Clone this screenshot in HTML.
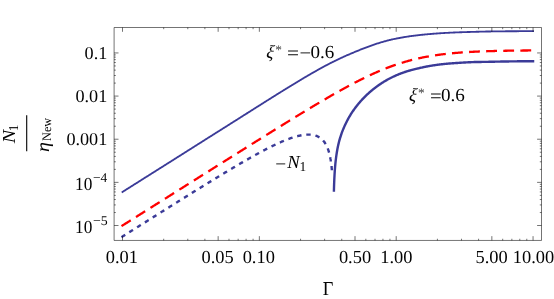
<!DOCTYPE html>
<html><head><meta charset="utf-8"><title>plot</title><style>html,body{margin:0;padding:0;background:#fff;overflow:hidden}body{width:554px;height:299px;position:relative}</style></head><body>
<svg width="554" height="299" viewBox="0 0 554 299" style="position:absolute;left:0;top:0;font-family:'Liberation Serif',serif;text-rendering:geometricPrecision">
<rect width="554" height="299" fill="#fff"/>
<g fill="none" stroke-linejoin="round">
<path d="M122.50,191.93 L123.19,191.49 L123.87,191.06 L124.56,190.63 L125.24,190.20 L125.93,189.76 L126.61,189.33 L127.30,188.90 L127.98,188.47 L128.67,188.03 L129.35,187.60 L130.04,187.17 L130.72,186.74 L131.41,186.31 L132.10,185.87 L132.78,185.44 L133.47,185.01 L134.15,184.58 L134.84,184.14 L135.52,183.71 L136.21,183.28 L136.89,182.85 L137.58,182.41 L138.26,181.98 L138.95,181.55 L139.63,181.12 L140.32,180.69 L141.01,180.25 L141.69,179.82 L142.38,179.39 L143.06,178.96 L143.75,178.52 L144.43,178.09 L145.12,177.66 L145.80,177.23 L146.49,176.80 L147.17,176.36 L147.86,175.93 L148.54,175.50 L149.23,175.07 L149.92,174.63 L150.60,174.20 L151.29,173.77 L151.97,173.34 L152.66,172.91 L153.34,172.47 L154.03,172.04 L154.71,171.61 L155.40,171.18 L156.08,170.74 L156.77,170.31 L157.46,169.88 L158.14,169.45 L158.83,169.01 L159.51,168.58 L160.20,168.15 L160.88,167.72 L161.57,167.29 L162.25,166.85 L162.94,166.42 L163.62,165.99 L164.31,165.56 L164.99,165.12 L165.68,164.69 L166.37,164.26 L167.05,163.83 L167.74,163.39 L168.42,162.96 L169.11,162.53 L169.79,162.10 L170.48,161.66 L171.16,161.23 L171.85,160.80 L172.53,160.37 L173.22,159.93 L173.90,159.50 L174.59,159.07 L175.28,158.63 L175.96,158.20 L176.65,157.77 L177.33,157.34 L178.02,156.90 L178.70,156.47 L179.39,156.04 L180.07,155.61 L180.76,155.17 L181.44,154.74 L182.13,154.31 L182.81,153.87 L183.50,153.44 L184.19,153.01 L184.87,152.57 L185.56,152.14 L186.24,151.71 L186.93,151.27 L187.61,150.84 L188.30,150.41 L188.98,149.97 L189.67,149.54 L190.35,149.11 L191.04,148.67 L191.72,148.24 L192.41,147.81 L193.10,147.37 L193.78,146.94 L194.47,146.51 L195.15,146.07 L195.84,145.64 L196.52,145.21 L197.21,144.77 L197.89,144.34 L198.58,143.90 L199.26,143.47 L199.95,143.04 L200.63,142.60 L201.32,142.17 L202.01,141.73 L202.69,141.30 L203.38,140.87 L204.06,140.43 L204.75,140.00 L205.43,139.57 L206.12,139.13 L206.80,138.70 L207.49,138.27 L208.17,137.84 L208.86,137.40 L209.54,136.97 L210.23,136.54 L210.92,136.11 L211.60,135.68 L212.29,135.24 L212.97,134.81 L213.66,134.38 L214.34,133.95 L215.03,133.51 L215.71,133.08 L216.40,132.65 L217.08,132.22 L217.77,131.79 L218.45,131.36 L219.14,130.92 L219.83,130.49 L220.51,130.06 L221.20,129.63 L221.88,129.20 L222.57,128.76 L223.25,128.33 L223.94,127.90 L224.62,127.47 L225.31,127.04 L225.99,126.60 L226.68,126.17 L227.37,125.74 L228.05,125.31 L228.74,124.87 L229.42,124.44 L230.11,124.01 L230.79,123.57 L231.48,123.14 L232.16,122.71 L232.85,122.28 L233.53,121.84 L234.22,121.41 L234.90,120.97 L235.59,120.54 L236.28,120.11 L236.96,119.67 L237.65,119.24 L238.33,118.80 L239.02,118.37 L239.70,117.94 L240.39,117.50 L241.07,117.07 L241.76,116.63 L242.44,116.20 L243.13,115.76 L243.81,115.33 L244.50,114.89 L245.19,114.46 L245.87,114.02 L246.56,113.59 L247.24,113.15 L247.93,112.72 L248.61,112.29 L249.30,111.85 L249.98,111.42 L250.67,110.98 L251.35,110.55 L252.04,110.12 L252.72,109.68 L253.41,109.25 L254.10,108.81 L254.78,108.38 L255.47,107.95 L256.15,107.51 L256.84,107.08 L257.52,106.65 L258.21,106.21 L258.89,105.78 L259.58,105.35 L260.26,104.92 L260.95,104.48 L261.63,104.05 L262.32,103.62 L263.01,103.19 L263.69,102.75 L264.38,102.32 L265.06,101.89 L265.75,101.46 L266.43,101.03 L267.12,100.59 L267.80,100.16 L268.49,99.73 L269.17,99.30 L269.86,98.87 L270.54,98.44 L271.23,98.01 L271.92,97.58 L272.60,97.15 L273.29,96.72 L273.97,96.29 L274.66,95.86 L275.34,95.44 L276.03,95.01 L276.71,94.58 L277.40,94.15 L278.08,93.72 L278.77,93.30 L279.45,92.87 L280.14,92.44 L280.83,92.02 L281.51,91.59 L282.20,91.17 L282.88,90.74 L283.57,90.32 L284.25,89.89 L284.94,89.47 L285.62,89.05 L286.31,88.62 L286.99,88.20 L287.68,87.78 L288.36,87.36 L289.05,86.94 L289.74,86.52 L290.42,86.10 L291.11,85.68 L291.79,85.26 L292.48,84.84 L293.16,84.42 L293.85,84.00 L294.53,83.59 L295.22,83.17 L295.90,82.75 L296.59,82.34 L297.28,81.92 L297.96,81.51 L298.65,81.10 L299.33,80.69 L300.02,80.28 L300.70,79.86 L301.39,79.45 L302.07,79.05 L302.76,78.64 L303.44,78.23 L304.13,77.82 L304.81,77.42 L305.50,77.01 L306.19,76.61 L306.87,76.21 L307.56,75.81 L308.24,75.41 L308.93,75.01 L309.61,74.61 L310.30,74.21 L310.98,73.82 L311.67,73.42 L312.35,73.03 L313.04,72.63 L313.72,72.24 L314.41,71.85 L315.10,71.46 L315.78,71.08 L316.47,70.69 L317.15,70.31 L317.84,69.92 L318.52,69.54 L319.21,69.16 L319.89,68.78 L320.58,68.40 L321.26,68.02 L321.95,67.65 L322.63,67.28 L323.32,66.90 L324.01,66.53 L324.69,66.16 L325.38,65.80 L326.06,65.43 L326.75,65.07 L327.43,64.71 L328.12,64.35 L328.80,64.00 L329.49,63.64 L330.17,63.29 L330.86,62.94 L331.54,62.59 L332.23,62.25 L332.92,61.90 L333.60,61.56 L334.29,61.22 L334.97,60.88 L335.66,60.55 L336.34,60.21 L337.03,59.88 L337.71,59.55 L338.40,59.22 L339.08,58.90 L339.77,58.57 L340.45,58.25 L341.14,57.93 L341.83,57.61 L342.51,57.30 L343.20,56.98 L343.88,56.67 L344.57,56.37 L345.25,56.06 L345.94,55.76 L346.62,55.46 L347.31,55.16 L347.99,54.86 L348.68,54.57 L349.36,54.28 L350.05,53.98 L350.74,53.69 L351.42,53.41 L352.11,53.12 L352.79,52.83 L353.48,52.54 L354.16,52.26 L354.85,51.98 L355.53,51.69 L356.22,51.41 L356.90,51.12 L357.59,50.84 L358.27,50.56 L358.96,50.28 L359.65,50.00 L360.33,49.72 L361.02,49.44 L361.70,49.16 L362.39,48.89 L363.07,48.62 L363.76,48.35 L364.44,48.08 L365.13,47.82 L365.81,47.56 L366.50,47.30 L367.19,47.04 L367.87,46.79 L368.56,46.54 L369.24,46.29 L369.93,46.04 L370.61,45.80 L371.30,45.55 L371.98,45.31 L372.67,45.07 L373.35,44.84 L374.04,44.60 L374.72,44.37 L375.41,44.14 L376.10,43.92 L376.78,43.70 L377.47,43.48 L378.15,43.26 L378.84,43.05 L379.52,42.84 L380.21,42.63 L380.89,42.43 L381.58,42.22 L382.26,42.02 L382.95,41.83 L383.63,41.63 L384.32,41.44 L385.01,41.25 L385.69,41.06 L386.38,40.87 L387.06,40.69 L387.75,40.51 L388.43,40.34 L389.12,40.17 L389.80,40.00 L390.49,39.84 L391.17,39.67 L391.86,39.52 L392.54,39.37 L393.23,39.22 L393.92,39.07 L394.60,38.93 L395.29,38.79 L395.97,38.65 L396.66,38.51 L397.34,38.37 L398.03,38.24 L398.71,38.11 L399.40,37.98 L400.08,37.86 L400.77,37.73 L401.45,37.61 L402.14,37.49 L402.83,37.37 L403.51,37.26 L404.20,37.14 L404.88,37.03 L405.57,36.92 L406.25,36.81 L406.94,36.70 L407.62,36.60 L408.31,36.49 L408.99,36.39 L409.68,36.29 L410.36,36.20 L411.05,36.10 L411.74,36.01 L412.42,35.91 L413.11,35.82 L413.79,35.73 L414.48,35.65 L415.16,35.56 L415.85,35.48 L416.53,35.39 L417.22,35.31 L417.90,35.23 L418.59,35.15 L419.27,35.08 L419.96,35.00 L420.65,34.93 L421.33,34.85 L422.02,34.78 L422.70,34.71 L423.39,34.65 L424.07,34.58 L424.76,34.51 L425.44,34.45 L426.13,34.38 L426.81,34.32 L427.50,34.26 L428.18,34.20 L428.87,34.14 L429.56,34.08 L430.24,34.02 L430.93,33.96 L431.61,33.90 L432.30,33.85 L432.98,33.79 L433.67,33.73 L434.35,33.68 L435.04,33.63 L435.72,33.58 L436.41,33.52 L437.10,33.47 L437.78,33.42 L438.47,33.38 L439.15,33.33 L439.84,33.28 L440.52,33.24 L441.21,33.19 L441.89,33.15 L442.58,33.10 L443.26,33.06 L443.95,33.02 L444.63,32.98 L445.32,32.94 L446.01,32.91 L446.69,32.87 L447.38,32.83 L448.06,32.80 L448.75,32.76 L449.43,32.73 L450.12,32.70 L450.80,32.66 L451.49,32.63 L452.17,32.60 L452.86,32.57 L453.54,32.54 L454.23,32.51 L454.92,32.48 L455.60,32.45 L456.29,32.42 L456.97,32.40 L457.66,32.37 L458.34,32.34 L459.03,32.32 L459.71,32.29 L460.40,32.27 L461.08,32.24 L461.77,32.22 L462.45,32.20 L463.14,32.17 L463.83,32.15 L464.51,32.13 L465.20,32.11 L465.88,32.09 L466.57,32.06 L467.25,32.04 L467.94,32.02 L468.62,32.00 L469.31,31.98 L469.99,31.96 L470.68,31.94 L471.36,31.92 L472.05,31.90 L472.74,31.88 L473.42,31.86 L474.11,31.84 L474.79,31.82 L475.48,31.80 L476.16,31.78 L476.85,31.77 L477.53,31.75 L478.22,31.73 L478.90,31.71 L479.59,31.69 L480.27,31.67 L480.96,31.65 L481.65,31.64 L482.33,31.62 L483.02,31.60 L483.70,31.59 L484.39,31.57 L485.07,31.56 L485.76,31.54 L486.44,31.53 L487.13,31.52 L487.81,31.50 L488.50,31.49 L489.18,31.48 L489.87,31.47 L490.56,31.46 L491.24,31.45 L491.93,31.44 L492.61,31.43 L493.30,31.42 L493.98,31.41 L494.67,31.41 L495.35,31.40 L496.04,31.39 L496.72,31.38 L497.41,31.37 L498.09,31.36 L498.78,31.36 L499.47,31.35 L500.15,31.34 L500.84,31.34 L501.52,31.33 L502.21,31.32 L502.89,31.31 L503.58,31.31 L504.26,31.30 L504.95,31.30 L505.63,31.29 L506.32,31.28 L507.01,31.28 L507.69,31.27 L508.38,31.27 L509.06,31.26 L509.75,31.26 L510.43,31.25 L511.12,31.25 L511.80,31.24 L512.49,31.24 L513.17,31.23 L513.86,31.23 L514.54,31.22 L515.23,31.22 L515.92,31.21 L516.60,31.21 L517.29,31.21 L517.97,31.20 L518.66,31.20 L519.34,31.19 L520.03,31.19 L520.71,31.19 L521.40,31.18 L522.08,31.18 L522.77,31.18 L523.45,31.17 L524.14,31.17 L524.83,31.17 L525.51,31.16 L526.20,31.16 L526.88,31.16 L527.57,31.16 L528.25,31.15 L528.94,31.15 L529.62,31.15 L530.31,31.15 L530.99,31.14 L531.68,31.14 L532.36,31.14 L533.05,31.14" stroke="#3b3b98" stroke-width="1.85" stroke-linecap="square"/>
<path d="M122.50,225.51 L123.19,225.08 L123.87,224.65 L124.56,224.22 L125.24,223.78 L125.93,223.35 L126.61,222.92 L127.30,222.49 L127.98,222.05 L128.67,221.62 L129.35,221.19 L130.04,220.76 L130.72,220.33 L131.41,219.89 L132.10,219.46 L132.78,219.03 L133.47,218.60 L134.15,218.17 L134.84,217.73 L135.52,217.30 L136.21,216.87 L136.89,216.44 L137.58,216.01 L138.26,215.57 L138.95,215.14 L139.63,214.71 L140.32,214.28 L141.01,213.85 L141.69,213.41 L142.38,212.98 L143.06,212.55 L143.75,212.12 L144.43,211.69 L145.12,211.25 L145.80,210.82 L146.49,210.39 L147.17,209.96 L147.86,209.53 L148.54,209.09 L149.23,208.66 L149.92,208.23 L150.60,207.80 L151.29,207.37 L151.97,206.93 L152.66,206.50 L153.34,206.07 L154.03,205.64 L154.71,205.21 L155.40,204.77 L156.08,204.34 L156.77,203.91 L157.46,203.48 L158.14,203.05 L158.83,202.61 L159.51,202.18 L160.20,201.75 L160.88,201.32 L161.57,200.89 L162.25,200.45 L162.94,200.02 L163.62,199.59 L164.31,199.16 L164.99,198.73 L165.68,198.29 L166.37,197.86 L167.05,197.43 L167.74,197.00 L168.42,196.57 L169.11,196.13 L169.79,195.70 L170.48,195.27 L171.16,194.84 L171.85,194.41 L172.53,193.97 L173.22,193.54 L173.90,193.11 L174.59,192.68 L175.28,192.25 L175.96,191.81 L176.65,191.38 L177.33,190.95 L178.02,190.52 L178.70,190.09 L179.39,189.66 L180.07,189.22 L180.76,188.79 L181.44,188.36 L182.13,187.93 L182.81,187.50 L183.50,187.06 L184.19,186.63 L184.87,186.20 L185.56,185.77 L186.24,185.34 L186.93,184.90 L187.61,184.47 L188.30,184.04 L188.98,183.61 L189.67,183.18 L190.35,182.75 L191.04,182.31 L191.72,181.88 L192.41,181.45 L193.10,181.02 L193.78,180.59 L194.47,180.16 L195.15,179.72 L195.84,179.29 L196.52,178.86 L197.21,178.43 L197.89,178.00 L198.58,177.57 L199.26,177.13 L199.95,176.70 L200.63,176.27 L201.32,175.84 L202.01,175.41 L202.69,174.98 L203.38,174.54 L204.06,174.11 L204.75,173.68 L205.43,173.25 L206.12,172.82 L206.80,172.39 L207.49,171.96 L208.17,171.52 L208.86,171.09 L209.54,170.66 L210.23,170.23 L210.92,169.80 L211.60,169.37 L212.29,168.94 L212.97,168.50 L213.66,168.07 L214.34,167.64 L215.03,167.21 L215.71,166.78 L216.40,166.35 L217.08,165.92 L217.77,165.49 L218.45,165.05 L219.14,164.62 L219.83,164.19 L220.51,163.76 L221.20,163.33 L221.88,162.90 L222.57,162.47 L223.25,162.04 L223.94,161.61 L224.62,161.17 L225.31,160.74 L225.99,160.31 L226.68,159.88 L227.37,159.45 L228.05,159.02 L228.74,158.59 L229.42,158.16 L230.11,157.73 L230.79,157.30 L231.48,156.87 L232.16,156.44 L232.85,156.00 L233.53,155.57 L234.22,155.14 L234.90,154.71 L235.59,154.28 L236.28,153.85 L236.96,153.42 L237.65,152.99 L238.33,152.56 L239.02,152.13 L239.70,151.70 L240.39,151.27 L241.07,150.84 L241.76,150.41 L242.44,149.98 L243.13,149.55 L243.81,149.12 L244.50,148.69 L245.19,148.26 L245.87,147.83 L246.56,147.40 L247.24,146.97 L247.93,146.54 L248.61,146.11 L249.30,145.68 L249.98,145.25 L250.67,144.82 L251.35,144.39 L252.04,143.97 L252.72,143.54 L253.41,143.11 L254.10,142.68 L254.78,142.25 L255.47,141.82 L256.15,141.39 L256.84,140.96 L257.52,140.53 L258.21,140.11 L258.89,139.68 L259.58,139.25 L260.26,138.82 L260.95,138.39 L261.63,137.96 L262.32,137.54 L263.01,137.11 L263.69,136.68 L264.38,136.25 L265.06,135.82 L265.75,135.40 L266.43,134.97 L267.12,134.54 L267.80,134.11 L268.49,133.69 L269.17,133.26 L269.86,132.83 L270.54,132.41 L271.23,131.98 L271.92,131.55 L272.60,131.13 L273.29,130.70 L273.97,130.27 L274.66,129.85 L275.34,129.42 L276.03,129.00 L276.71,128.57 L277.40,128.15 L278.08,127.72 L278.77,127.30 L279.45,126.87 L280.14,126.45 L280.83,126.02 L281.51,125.60 L282.20,125.17 L282.88,124.75 L283.57,124.32 L284.25,123.90 L284.94,123.48 L285.62,123.05 L286.31,122.63 L286.99,122.21 L287.68,121.78 L288.36,121.36 L289.05,120.94 L289.74,120.52 L290.42,120.10 L291.11,119.67 L291.79,119.25 L292.48,118.83 L293.16,118.41 L293.85,117.99 L294.53,117.57 L295.22,117.15 L295.90,116.73 L296.59,116.31 L297.28,115.89 L297.96,115.47 L298.65,115.05 L299.33,114.63 L300.02,114.22 L300.70,113.80 L301.39,113.38 L302.07,112.96 L302.76,112.55 L303.44,112.13 L304.13,111.72 L304.81,111.30 L305.50,110.88 L306.19,110.47 L306.87,110.05 L307.56,109.64 L308.24,109.23 L308.93,108.81 L309.61,108.40 L310.30,107.99 L310.98,107.58 L311.67,107.16 L312.35,106.75 L313.04,106.34 L313.72,105.93 L314.41,105.52 L315.10,105.11 L315.78,104.70 L316.47,104.30 L317.15,103.89 L317.84,103.48 L318.52,103.07 L319.21,102.67 L319.89,102.26 L320.58,101.86 L321.26,101.45 L321.95,101.05 L322.63,100.65 L323.32,100.24 L324.01,99.84 L324.69,99.44 L325.38,99.04 L326.06,98.64 L326.75,98.24 L327.43,97.84 L328.12,97.44 L328.80,97.05 L329.49,96.65 L330.17,96.26 L330.86,95.86 L331.54,95.47 L332.23,95.07 L332.92,94.68 L333.60,94.29 L334.29,93.90 L334.97,93.51 L335.66,93.12 L336.34,92.73 L337.03,92.35 L337.71,91.96 L338.40,91.58 L339.08,91.19 L339.77,90.81 L340.45,90.43 L341.14,90.04 L341.83,89.66 L342.51,89.29 L343.20,88.91 L343.88,88.53 L344.57,88.16 L345.25,87.78 L345.94,87.41 L346.62,87.04 L347.31,86.66 L347.99,86.29 L348.68,85.93 L349.36,85.56 L350.05,85.19 L350.74,84.83 L351.42,84.47 L352.11,84.10 L352.79,83.74 L353.48,83.38 L354.16,83.03 L354.85,82.67 L355.53,82.31 L356.22,81.96 L356.90,81.61 L357.59,81.26 L358.27,80.91 L358.96,80.56 L359.65,80.22 L360.33,79.87 L361.02,79.53 L361.70,79.19 L362.39,78.85 L363.07,78.51 L363.76,78.18 L364.44,77.84 L365.13,77.51 L365.81,77.18 L366.50,76.85 L367.19,76.52 L367.87,76.20 L368.56,75.88 L369.24,75.55 L369.93,75.23 L370.61,74.92 L371.30,74.60 L371.98,74.29 L372.67,73.98 L373.35,73.67 L374.04,73.36 L374.72,73.05 L375.41,72.75 L376.10,72.45 L376.78,72.15 L377.47,71.85 L378.15,71.56 L378.84,71.27 L379.52,70.98 L380.21,70.69 L380.89,70.40 L381.58,70.12 L382.26,69.84 L382.95,69.56 L383.63,69.28 L384.32,69.00 L385.01,68.73 L385.69,68.46 L386.38,68.19 L387.06,67.93 L387.75,67.67 L388.43,67.41 L389.12,67.15 L389.80,66.89 L390.49,66.64 L391.17,66.39 L391.86,66.14 L392.54,65.89 L393.23,65.65 L393.92,65.41 L394.60,65.17 L395.29,64.93 L395.97,64.70 L396.66,64.47 L397.34,64.24 L398.03,64.01 L398.71,63.79 L399.40,63.57 L400.08,63.35 L400.77,63.13 L401.45,62.92 L402.14,62.71 L402.83,62.50 L403.51,62.29 L404.20,62.09 L404.88,61.88 L405.57,61.69 L406.25,61.49 L406.94,61.29 L407.62,61.10 L408.31,60.91 L408.99,60.73 L409.68,60.54 L410.36,60.36 L411.05,60.18 L411.74,60.00 L412.42,59.83 L413.11,59.66 L413.79,59.49 L414.48,59.32 L415.16,59.16 L415.85,58.99 L416.53,58.83 L417.22,58.67 L417.90,58.52 L418.59,58.36 L419.27,58.21 L419.96,58.06 L420.65,57.92 L421.33,57.77 L422.02,57.63 L422.70,57.49 L423.39,57.35 L424.07,57.22 L424.76,57.08 L425.44,56.95 L426.13,56.82 L426.81,56.70 L427.50,56.57 L428.18,56.45 L428.87,56.33 L429.56,56.21 L430.24,56.09 L430.93,55.97 L431.61,55.86 L432.30,55.75 L432.98,55.64 L433.67,55.53 L434.35,55.43 L435.04,55.32 L435.72,55.22 L436.41,55.12 L437.10,55.02 L437.78,54.92 L438.47,54.83 L439.15,54.74 L439.84,54.64 L440.52,54.55 L441.21,54.47 L441.89,54.38 L442.58,54.29 L443.26,54.21 L443.95,54.13 L444.63,54.05 L445.32,53.97 L446.01,53.89 L446.69,53.81 L447.38,53.74 L448.06,53.67 L448.75,53.59 L449.43,53.52 L450.12,53.45 L450.80,53.39 L451.49,53.32 L452.17,53.25 L452.86,53.19 L453.54,53.13 L454.23,53.07 L454.92,53.01 L455.60,52.95 L456.29,52.89 L456.97,52.83 L457.66,52.78 L458.34,52.72 L459.03,52.67 L459.71,52.62 L460.40,52.56 L461.08,52.51 L461.77,52.47 L462.45,52.42 L463.14,52.37 L463.83,52.32 L464.51,52.28 L465.20,52.23 L465.88,52.19 L466.57,52.15 L467.25,52.11 L467.94,52.06 L468.62,52.02 L469.31,51.98 L469.99,51.95 L470.68,51.91 L471.36,51.87 L472.05,51.84 L472.74,51.80 L473.42,51.77 L474.11,51.73 L474.79,51.70 L475.48,51.67 L476.16,51.63 L476.85,51.60 L477.53,51.57 L478.22,51.54 L478.90,51.51 L479.59,51.49 L480.27,51.46 L480.96,51.43 L481.65,51.40 L482.33,51.38 L483.02,51.35 L483.70,51.33 L484.39,51.30 L485.07,51.28 L485.76,51.25 L486.44,51.23 L487.13,51.21 L487.81,51.19 L488.50,51.17 L489.18,51.14 L489.87,51.12 L490.56,51.10 L491.24,51.08 L491.93,51.06 L492.61,51.05 L493.30,51.03 L493.98,51.01 L494.67,50.99 L495.35,50.97 L496.04,50.96 L496.72,50.94 L497.41,50.92 L498.09,50.91 L498.78,50.89 L499.47,50.88 L500.15,50.86 L500.84,50.85 L501.52,50.84 L502.21,50.82 L502.89,50.81 L503.58,50.79 L504.26,50.78 L504.95,50.77 L505.63,50.76 L506.32,50.74 L507.01,50.73 L507.69,50.72 L508.38,50.71 L509.06,50.70 L509.75,50.69 L510.43,50.68 L511.12,50.67 L511.80,50.66 L512.49,50.65 L513.17,50.64 L513.86,50.63 L514.54,50.62 L515.23,50.61 L515.92,50.60 L516.60,50.59 L517.29,50.58 L517.97,50.58 L518.66,50.57 L519.34,50.56 L520.03,50.55 L520.71,50.54 L521.40,50.54 L522.08,50.53 L522.77,50.52 L523.45,50.52 L524.14,50.51 L524.83,50.50 L525.51,50.50 L526.20,50.49 L526.88,50.48 L527.57,50.48 L528.25,50.47 L528.94,50.47 L529.62,50.46 L530.31,50.46 L530.99,50.45 L531.68,50.44 L532.36,50.44 L533.05,50.43" stroke="#ff0000" stroke-width="2.3" stroke-dasharray="8.55 8.55" stroke-linecap="square"/>
<path d="M122.50,236.51 L123.20,236.07 L123.89,235.63 L124.59,235.19 L125.28,234.75 L125.98,234.32 L126.67,233.88 L127.37,233.44 L128.06,233.00 L128.76,232.57 L129.45,232.13 L130.15,231.69 L130.85,231.25 L131.54,230.81 L132.24,230.38 L132.93,229.94 L133.63,229.50 L134.32,229.06 L135.02,228.63 L135.71,228.19 L136.41,227.75 L137.10,227.31 L137.80,226.88 L138.49,226.44 L139.19,226.00 L139.89,225.56 L140.58,225.13 L141.28,224.69 L141.97,224.25 L142.67,223.82 L143.36,223.38 L144.06,222.94 L144.75,222.50 L145.45,222.07 L146.14,221.63 L146.84,221.19 L147.54,220.75 L148.23,220.32 L148.93,219.88 L149.62,219.44 L150.32,219.01 L151.01,218.57 L151.71,218.13 L152.40,217.70 L153.10,217.26 L153.79,216.82 L154.49,216.39 L155.19,215.95 L155.88,215.51 L156.58,215.08 L157.27,214.64 L157.97,214.20 L158.66,213.77 L159.36,213.33 L160.05,212.89 L160.75,212.46 L161.44,212.02 L162.14,211.58 L162.83,211.15 L163.53,210.71 L164.23,210.28 L164.92,209.84 L165.62,209.40 L166.31,208.97 L167.01,208.53 L167.70,208.10 L168.40,207.66 L169.09,207.23 L169.79,206.79 L170.48,206.35 L171.18,205.92 L171.88,205.48 L172.57,205.05 L173.27,204.61 L173.96,204.18 L174.66,203.74 L175.35,203.31 L176.05,202.87 L176.74,202.44 L177.44,202.00 L178.13,201.57 L178.83,201.13 L179.53,200.70 L180.22,200.27 L180.92,199.83 L181.61,199.40 L182.31,198.96 L183.00,198.53 L183.70,198.10 L184.39,197.66 L185.09,197.23 L185.78,196.79 L186.48,196.36 L187.18,195.93 L187.87,195.49 L188.57,195.06 L189.26,194.63 L189.96,194.20 L190.65,193.76 L191.35,193.33 L192.04,192.90 L192.74,192.47 L193.43,192.03 L194.13,191.60 L194.82,191.17 L195.52,190.74 L196.22,190.31 L196.91,189.88 L197.61,189.45 L198.30,189.01 L199.00,188.58 L199.69,188.15 L200.39,187.72 L201.08,187.29 L201.78,186.86 L202.47,186.43 L203.17,186.00 L203.87,185.57 L204.56,185.14 L205.26,184.72 L205.95,184.29 L206.65,183.86 L207.34,183.43 L208.04,183.00 L208.73,182.57 L209.43,182.15 L210.12,181.72 L210.82,181.29 L211.52,180.87 L212.21,180.44 L212.91,180.01 L213.60,179.59 L214.30,179.16 L214.99,178.74 L215.69,178.31 L216.38,177.89 L217.08,177.46 L217.77,177.04 L218.47,176.62 L219.16,176.19 L219.86,175.77 L220.56,175.35 L221.25,174.93 L221.95,174.50 L222.64,174.08 L223.34,173.66 L224.03,173.24 L224.73,172.82 L225.42,172.40 L226.12,171.98 L226.81,171.56 L227.51,171.15 L228.21,170.73 L228.90,170.31 L229.60,169.89 L230.29,169.48 L230.99,169.06 L231.68,168.65 L232.38,168.23 L233.07,167.82 L233.77,167.41 L234.46,166.99 L235.16,166.58 L235.86,166.17 L236.55,165.76 L237.25,165.35 L237.94,164.94 L238.64,164.53 L239.33,164.12 L240.03,163.72 L240.72,163.31 L241.42,162.90 L242.11,162.50 L242.81,162.09 L243.50,161.69 L244.20,161.29 L244.90,160.89 L245.59,160.49 L246.29,160.09 L246.98,159.69 L247.68,159.29 L248.37,158.89 L249.07,158.50 L249.76,158.10 L250.46,157.71 L251.15,157.32 L251.85,156.93 L252.55,156.53 L253.24,156.15 L253.94,155.76 L254.63,155.37 L255.33,154.99 L256.02,154.60 L256.72,154.22 L257.41,153.84 L258.11,153.46 L258.80,153.08 L259.50,152.70 L260.20,152.33 L260.89,151.95 L261.59,151.58 L262.28,151.21 L262.98,150.84 L263.67,150.47 L264.37,150.11 L265.06,149.74 L265.76,149.38 L266.45,149.02 L267.15,148.66 L267.84,148.31 L268.54,147.95 L269.24,147.60 L269.93,147.25 L270.63,146.91 L271.32,146.56 L272.02,146.22 L272.71,145.88 L273.41,145.54 L274.10,145.21 L274.80,144.87 L275.49,144.55 L276.19,144.22 L276.89,143.89 L277.58,143.57 L278.28,143.26 L278.97,142.94 L279.67,142.63 L280.36,142.32 L281.06,142.02 L281.75,141.72 L282.45,141.42 L283.14,141.13 L283.84,140.84 L284.54,140.55 L285.23,140.27 L285.93,139.99 L286.62,139.72 L287.32,139.45 L288.01,139.19 L288.71,138.93 L289.40,138.68 L290.10,138.43 L290.79,138.19 L291.49,137.95 L292.18,137.72 L292.88,137.49 L293.58,137.27 L294.27,137.06 L294.97,136.85 L295.66,136.65 L296.36,136.46 L297.05,136.28 L297.75,136.10 L298.44,135.93 L299.14,135.77 L299.83,135.62 L300.53,135.47 L301.23,135.34 L301.92,135.21 L302.62,135.10 L303.31,134.99 L304.01,134.90 L304.70,134.82 L305.40,134.75 L306.09,134.69 L306.79,134.65 L307.48,134.62 L308.18,134.60 L308.88,134.61 L309.57,134.62 L310.27,134.66 L310.96,134.71 L311.66,134.78 L312.35,134.88 L313.05,134.99 L313.74,135.13 L314.44,135.29 L315.13,135.48 L315.83,135.70 L316.53,135.95 L317.22,136.23 L317.92,136.55 L318.61,136.91 L319.31,137.32 L320.00,137.77 L320.70,138.27 L321.39,138.83 L322.09,139.45 L322.78,140.15 L323.48,140.93 L324.17,141.80 L324.87,142.79 L325.57,143.89 L326.26,145.15 L326.96,146.59 L327.65,148.24 L328.35,150.18 L329.04,152.46 L329.74,155.23 L330.43,158.67 L330.43,158.67 L330.44,158.68 L330.44,158.69 L330.44,158.70 L330.44,158.71 L330.44,158.72 L330.44,158.73 L330.44,158.73 L330.45,158.74 L330.45,158.75 L330.45,158.76 L330.45,158.77 L330.45,158.78 L330.45,158.78 L330.45,158.79 L330.46,158.80 L330.46,158.81 L330.46,158.82 L330.46,158.83 L330.46,158.83 L330.46,158.84 L330.47,158.85 L330.47,158.86 L330.47,158.87 L330.47,158.88 L330.47,158.89 L330.47,158.89 L330.47,158.90 L330.48,158.91 L330.48,158.92 L330.48,158.93 L330.48,158.94 L330.48,158.95 L330.48,158.95 L330.48,158.96 L330.49,158.97 L330.49,158.98 L330.49,158.99 L330.49,159.00 L330.49,159.01 L330.49,159.01 L330.50,159.02 L330.50,159.03 L330.50,159.04 L330.50,159.05 L330.50,159.06 L330.50,159.07 L330.50,159.07 L330.51,159.08 L330.51,159.09 L330.51,159.10 L330.51,159.11 L330.51,159.12 L330.51,159.13 L330.51,159.13 L330.52,159.14 L330.52,159.15 L330.52,159.16 L330.52,159.17 L330.52,159.18 L330.52,159.19 L330.53,159.19 L330.53,159.20 L330.53,159.21 L330.53,159.22 L330.53,159.23 L330.53,159.24 L330.53,159.25 L330.54,159.26 L330.54,159.26 L330.54,159.27 L330.54,159.28 L330.54,159.29 L330.54,159.30 L330.54,159.31 L330.55,159.32 L330.55,159.33 L330.55,159.33 L330.55,159.34 L330.55,159.35 L330.55,159.36 L330.56,159.37 L330.56,159.38 L330.56,159.39 L330.56,159.40 L330.56,159.40 L330.56,159.41 L330.56,159.42 L330.57,159.43 L330.57,159.44 L330.57,159.45 L330.57,159.46 L330.57,159.47 L330.57,159.47 L330.57,159.48 L330.58,159.49 L330.58,159.50 L330.58,159.51 L330.58,159.52 L330.58,159.53 L330.58,159.54 L330.59,159.55 L330.59,159.55 L330.59,159.56 L330.59,159.57 L330.59,159.58 L330.59,159.59 L330.59,159.60 L330.60,159.61 L330.60,159.62 L330.60,159.63 L330.60,159.63 L330.60,159.64 L330.60,159.65 L330.60,159.66 L330.61,159.67 L330.61,159.68 L330.61,159.69 L330.61,159.70 L330.61,159.71 L330.61,159.72 L330.62,159.72 L330.62,159.73 L330.62,159.74 L330.62,159.75 L330.62,159.76 L330.62,159.77 L330.62,159.78 L330.63,159.79 L330.63,159.80 L330.63,159.81 L330.63,159.81 L330.63,159.82 L330.63,159.83 L330.63,159.84 L330.64,159.85 L330.64,159.86 L330.64,159.87 L330.64,159.88 L330.64,159.89 L330.64,159.90 L330.65,159.90 L330.65,159.91 L330.65,159.92 L330.65,159.93 L330.65,159.94 L330.65,159.95 L330.65,159.96 L330.66,159.97 L330.66,159.98 L330.66,159.99 L330.66,160.00 L330.66,160.01 L330.66,160.01 L330.66,160.02 L330.67,160.03 L330.67,160.04 L330.67,160.05 L330.67,160.06 L330.67,160.07 L330.67,160.08 L330.68,160.09 L330.68,160.10 L330.68,160.11 L330.68,160.12 L330.68,160.12 L330.68,160.13 L330.68,160.14 L330.69,160.15 L330.69,160.16 L330.69,160.17 L330.69,160.18 L330.69,160.19 L330.69,160.20 L330.69,160.21 L330.70,160.22 L330.70,160.23 L330.70,160.24 L330.70,160.24 L330.70,160.25 L330.70,160.26 L330.71,160.27 L330.71,160.28 L330.71,160.29 L330.71,160.30 L330.71,160.31 L330.71,160.32 L330.71,160.33 L330.72,160.34 L330.72,160.35 L330.72,160.36 L330.72,160.37 L330.72,160.38 L330.72,160.39 L330.72,160.39 L330.73,160.40 L330.73,160.41 L330.73,160.42 L330.73,160.43 L330.73,160.44 L330.73,160.45 L330.74,160.46 L330.74,160.47 L330.74,160.48 L330.74,160.49 L330.74,160.50 L330.74,160.51 L330.74,160.52 L330.75,160.53 L330.75,160.54 L330.75,160.55 L330.75,160.55 L330.75,160.56 L330.75,160.57 L330.75,160.58 L330.76,160.59 L330.76,160.60 L330.76,160.61 L330.76,160.62 L330.76,160.63 L330.76,160.64 L330.77,160.65 L330.77,160.66 L330.77,160.67 L330.77,160.68 L330.77,160.69 L330.77,160.70 L330.77,160.71 L330.78,160.72 L330.78,160.73 L330.78,160.74 L330.78,160.75 L330.78,160.76 L330.78,160.76 L330.78,160.77 L330.79,160.78 L330.79,160.79 L330.79,160.80 L330.79,160.81 L330.79,160.82 L330.79,160.83 L330.80,160.84 L330.80,160.85 L330.80,160.86 L330.80,160.87 L330.80,160.88 L330.80,160.89 L330.80,160.90 L330.81,160.91 L330.81,160.92 L330.81,160.93 L330.81,160.94 L330.81,160.95 L330.81,160.96 L330.81,160.97 L330.82,160.98 L330.82,160.99 L330.82,161.00 L330.82,161.01 L330.82,161.02 L330.82,161.03 L330.83,161.04 L330.83,161.05 L330.83,161.06 L330.83,161.07 L330.83,161.08 L330.83,161.09 L330.83,161.10 L330.84,161.11 L330.84,161.11 L330.84,161.12 L330.84,161.13 L330.84,161.14 L330.84,161.15 L330.84,161.16 L330.85,161.17 L330.85,161.18 L330.85,161.19 L330.85,161.20 L330.85,161.21 L330.85,161.22 L330.86,161.23 L330.86,161.24 L330.86,161.25 L330.86,161.26 L330.86,161.27 L330.86,161.28 L330.86,161.29 L330.87,161.30 L330.87,161.31 L330.87,161.32 L330.87,161.33 L330.87,161.34 L330.87,161.35 L330.87,161.36 L330.88,161.37 L330.88,161.38 L330.88,161.39 L330.88,161.40 L330.88,161.41 L330.88,161.42 L330.89,161.43 L330.89,161.44 L330.89,161.45 L330.89,161.46 L330.89,161.47 L330.89,161.48 L330.89,161.49 L330.90,161.50 L330.90,161.51 L330.90,161.52 L330.90,161.53 L330.90,161.54 L330.90,161.55 L330.90,161.56 L330.91,161.57 L330.91,161.58 L330.91,161.59 L330.91,161.60 L330.91,161.61 L330.91,161.62 L330.92,161.64 L330.92,161.65 L330.92,161.66 L330.92,161.67 L330.92,161.68 L330.92,161.69 L330.92,161.70 L330.93,161.71 L330.93,161.72 L330.93,161.73 L330.93,161.74 L330.93,161.75 L330.93,161.76 L330.93,161.77 L330.94,161.78 L330.94,161.79 L330.94,161.80 L330.94,161.81 L330.94,161.82 L330.94,161.83 L330.95,161.84 L330.95,161.85 L330.95,161.86 L330.95,161.87 L330.95,161.88 L330.95,161.89 L330.95,161.90 L330.96,161.91 L330.96,161.92 L330.96,161.93 L330.96,161.94 L330.96,161.95 L330.96,161.96 L330.96,161.97 L330.97,161.98 L330.97,162.00 L330.97,162.01 L330.97,162.02 L330.97,162.03 L330.97,162.04 L330.98,162.05 L330.98,162.06 L330.98,162.07 L330.98,162.08 L330.98,162.09 L330.98,162.10 L330.98,162.11 L330.99,162.12 L330.99,162.13 L330.99,162.14 L330.99,162.15 L330.99,162.16 L330.99,162.17 L330.99,162.18 L331.00,162.19 L331.00,162.20 L331.00,162.22 L331.00,162.23 L331.00,162.24 L331.00,162.25 L331.01,162.26 L331.01,162.27 L331.01,162.28 L331.01,162.29 L331.01,162.30 L331.01,162.31 L331.01,162.32 L331.02,162.33 L331.02,162.34 L331.02,162.35 L331.02,162.36 L331.02,162.37 L331.02,162.39 L331.02,162.40 L331.03,162.41 L331.03,162.42 L331.03,162.43 L331.03,162.44 L331.03,162.45 L331.03,162.46 L331.04,162.47 L331.04,162.48 L331.04,162.49 L331.04,162.50 L331.04,162.51 L331.04,162.52 L331.04,162.54 L331.05,162.55 L331.05,162.56 L331.05,162.57 L331.05,162.58 L331.05,162.59 L331.05,162.60 L331.05,162.61 L331.06,162.62 L331.06,162.63 L331.06,162.64 L331.06,162.65 L331.06,162.67 L331.06,162.68 L331.07,162.69 L331.07,162.70 L331.07,162.71 L331.07,162.72 L331.07,162.73 L331.07,162.74 L331.07,162.75 L331.08,162.76 L331.08,162.77 L331.08,162.79 L331.08,162.80 L331.08,162.81 L331.08,162.82 L331.08,162.83 L331.09,162.84 L331.09,162.85 L331.09,162.86 L331.09,162.87 L331.09,162.88 L331.09,162.90 L331.10,162.91 L331.10,162.92 L331.10,162.93 L331.10,162.94 L331.10,162.95 L331.10,162.96 L331.10,162.97 L331.11,162.98 L331.11,162.99 L331.11,163.01 L331.11,163.02 L331.11,163.03 L331.11,163.04 L331.11,163.05 L331.12,163.06 L331.12,163.07 L331.12,163.08 L331.12,163.09 L331.12,163.11 L331.12,163.12 L331.13,163.13 L331.13,163.14 L331.13,163.15 L331.13,163.16 L331.13,163.17 L331.13,163.18 L331.13,163.20 L331.14,163.21 L331.14,163.22 L331.14,163.23 L331.14,163.24 L331.14,163.25 L331.14,163.26 L331.14,163.27 L331.15,163.29 L331.15,163.30 L331.15,163.31 L331.15,163.32 L331.15,163.33 L331.15,163.34 L331.16,163.35 L331.16,163.37 L331.16,163.38 L331.16,163.39 L331.16,163.40 L331.16,163.41 L331.16,163.42 L331.17,163.43 L331.17,163.44 L331.17,163.46 L331.17,163.47 L331.17,163.48 L331.17,163.49 L331.17,163.50 L331.18,163.51 L331.18,163.52 L331.18,163.54 L331.18,163.55 L331.18,163.56 L331.18,163.57 L331.19,163.58 L331.19,163.59 L331.19,163.61 L331.19,163.62 L331.19,163.63 L331.19,163.64 L331.19,163.65 L331.20,163.66 L331.20,163.67 L331.20,163.69 L331.20,163.70 L331.20,163.71 L331.20,163.72 L331.20,163.73 L331.21,163.74 L331.21,163.76 L331.21,163.77 L331.21,163.78 L331.21,163.79 L331.21,163.80 L331.22,163.81 L331.22,163.83 L331.22,163.84 L331.22,163.85 L331.22,163.86 L331.22,163.87 L331.22,163.88 L331.23,163.90 L331.23,163.91 L331.23,163.92 L331.23,163.93 L331.23,163.94 L331.23,163.96 L331.23,163.97 L331.24,163.98 L331.24,163.99 L331.24,164.00 L331.24,164.01 L331.24,164.03 L331.24,164.04 L331.25,164.05 L331.25,164.06 L331.25,164.07 L331.25,164.09 L331.25,164.10 L331.25,164.11 L331.25,164.12 L331.26,164.13 L331.26,164.15 L331.26,164.16 L331.26,164.17 L331.26,164.18 L331.26,164.19 L331.26,164.20 L331.27,164.22 L331.27,164.23 L331.27,164.24 L331.27,164.25 L331.27,164.26 L331.27,164.28 L331.28,164.29 L331.28,164.30 L331.28,164.31 L331.28,164.32 L331.28,164.34 L331.28,164.35 L331.28,164.36 L331.29,164.37 L331.29,164.39 L331.29,164.40 L331.29,164.41 L331.29,164.42 L331.29,164.43 L331.29,164.45 L331.30,164.46 L331.30,164.47 L331.30,164.48 L331.30,164.49 L331.30,164.51 L331.30,164.52 L331.31,164.53 L331.31,164.54 L331.31,164.56 L331.31,164.57 L331.31,164.58 L331.31,164.59 L331.31,164.60 L331.32,164.62 L331.32,164.63 L331.32,164.64 L331.32,164.65 L331.32,164.67 L331.32,164.68 L331.32,164.69 L331.33,164.70 L331.33,164.72 L331.33,164.73 L331.33,164.74 L331.33,164.75 L331.33,164.77 L331.34,164.78 L331.34,164.79 L331.34,164.80 L331.34,164.81 L331.34,164.83 L331.34,164.84 L331.34,164.85 L331.35,164.86 L331.35,164.88 L331.35,164.89 L331.35,164.90 L331.35,164.91 L331.35,164.93 L331.35,164.94 L331.36,164.95 L331.36,164.96 L331.36,164.98 L331.36,164.99 L331.36,165.00 L331.36,165.02 L331.37,165.03 L331.37,165.04 L331.37,165.05 L331.37,165.07 L331.37,165.08 L331.37,165.09 L331.37,165.10 L331.38,165.12 L331.38,165.13 L331.38,165.14 L331.38,165.15 L331.38,165.17 L331.38,165.18 L331.38,165.19 L331.39,165.21 L331.39,165.22 L331.39,165.23 L331.39,165.24 L331.39,165.26 L331.39,165.27 L331.40,165.28 L331.40,165.29 L331.40,165.31 L331.40,165.32 L331.40,165.33 L331.40,165.35 L331.40,165.36 L331.41,165.37 L331.41,165.38 L331.41,165.40 L331.41,165.41 L331.41,165.42 L331.41,165.44 L331.41,165.45 L331.42,165.46 L331.42,165.48 L331.42,165.49 L331.42,165.50 L331.42,165.51 L331.42,165.53 L331.43,165.54 L331.43,165.55 L331.43,165.57 L331.43,165.58 L331.43,165.59 L331.43,165.61 L331.43,165.62 L331.44,165.63 L331.44,165.64 L331.44,165.66 L331.44,165.67 L331.44,165.68 L331.44,165.70 L331.44,165.71 L331.45,165.72 L331.45,165.74 L331.45,165.75 L331.45,165.76 L331.45,165.78 L331.45,165.79 L331.46,165.80 L331.46,165.82 L331.46,165.83 L331.46,165.84 L331.46,165.86 L331.46,165.87 L331.46,165.88 L331.47,165.90 L331.47,165.91 L331.47,165.92 L331.47,165.94 L331.47,165.95 L331.47,165.96 L331.47,165.98 L331.48,165.99 L331.48,166.00 L331.48,166.02 L331.48,166.03 L331.48,166.04 L331.48,166.06 L331.49,166.07 L331.49,166.08 L331.49,166.10 L331.49,166.11 L331.49,166.12 L331.49,166.14 L331.49,166.15 L331.50,166.16 L331.50,166.18 L331.50,166.19 L331.50,166.20 L331.50,166.22 L331.50,166.23 L331.50,166.24 L331.51,166.26 L331.51,166.27 L331.51,166.29 L331.51,166.30 L331.51,166.31 L331.51,166.33 L331.52,166.34 L331.52,166.35 L331.52,166.37 L331.52,166.38 L331.52,166.39 L331.52,166.41 L331.52,166.42 L331.53,166.44 L331.53,166.45 L331.53,166.46 L331.53,166.48 L331.53,166.49 L331.53,166.51 L331.53,166.52 L331.54,166.53 L331.54,166.55 L331.54,166.56 L331.54,166.57 L331.54,166.59 L331.54,166.60 L331.55,166.62 L331.55,166.63 L331.55,166.64 L331.55,166.66 L331.55,166.67 L331.55,166.69 L331.55,166.70 L331.56,166.71 L331.56,166.73 L331.56,166.74 L331.56,166.76 L331.56,166.77 L331.56,166.78 L331.56,166.80 L331.57,166.81 L331.57,166.83 L331.57,166.84 L331.57,166.85 L331.57,166.87 L331.57,166.88 L331.58,166.90 L331.58,166.91 L331.58,166.92 L331.58,166.94 L331.58,166.95 L331.58,166.97 L331.58,166.98 L331.59,167.00 L331.59,167.01 L331.59,167.02 L331.59,167.04 L331.59,167.05 L331.59,167.07 L331.59,167.08 L331.60,167.10 L331.60,167.11 L331.60,167.12 L331.60,167.14 L331.60,167.15 L331.60,167.17 L331.61,167.18 L331.61,167.20 L331.61,167.21 L331.61,167.22 L331.61,167.24 L331.61,167.25 L331.61,167.27 L331.62,167.28 L331.62,167.30 L331.62,167.31 L331.62,167.33 L331.62,167.34 L331.62,167.36 L331.62,167.37 L331.63,167.38 L331.63,167.40 L331.63,167.41 L331.63,167.43 L331.63,167.44 L331.63,167.46 L331.64,167.47 L331.64,167.49 L331.64,167.50 L331.64,167.52 L331.64,167.53 L331.64,167.55 L331.64,167.56 L331.65,167.57 L331.65,167.59 L331.65,167.60 L331.65,167.62 L331.65,167.63 L331.65,167.65 L331.65,167.66 L331.66,167.68 L331.66,167.69 L331.66,167.71 L331.66,167.72 L331.66,167.74 L331.66,167.75 L331.67,167.77 L331.67,167.78 L331.67,167.80 L331.67,167.81 L331.67,167.83 L331.67,167.84 L331.67,167.86 L331.68,167.87 L331.68,167.89 L331.68,167.90 L331.68,167.92 L331.68,167.93 L331.68,167.95 L331.68,167.96 L331.69,167.98 L331.69,167.99 L331.69,168.01 L331.69,168.02 L331.69,168.04 L331.69,168.05 L331.70,168.07 L331.70,168.08 L331.70,168.10 L331.70,168.11 L331.70,168.13 L331.70,168.14 L331.70,168.16 L331.71,168.18 L331.71,168.19 L331.71,168.21 L331.71,168.22 L331.71,168.24 L331.71,168.25 L331.71,168.27 L331.72,168.28 L331.72,168.30 L331.72,168.31 L331.72,168.33 L331.72,168.34 L331.72,168.36 L331.73,168.38 L331.73,168.39 L331.73,168.41 L331.73,168.42 L331.73,168.44 L331.73,168.45 L331.73,168.47 L331.74,168.48 L331.74,168.50 L331.74,168.52 L331.74,168.53 L331.74,168.55 L331.74,168.56 L331.74,168.58 L331.75,168.59 L331.75,168.61 L331.75,168.62 L331.75,168.64 L331.75,168.66 L331.75,168.67 L331.76,168.69 L331.76,168.70 L331.76,168.72 L331.76,168.73 L331.76,168.75 L331.76,168.77 L331.76,168.78 L331.77,168.80 L331.77,168.81 L331.77,168.83 L331.77,168.85 L331.77,168.86 L331.77,168.88 L331.77,168.89 L331.78,168.91 L331.78,168.93 L331.78,168.94 L331.78,168.96 L331.78,168.97 L331.78,168.99 L331.79,169.01 L331.79,169.02 L331.79,169.04 L331.79,169.05 L331.79,169.07 L331.79,169.09 L331.79,169.10 L331.80,169.12 L331.80,169.14 L331.80,169.15 L331.80,169.17 L331.80,169.18 L331.80,169.20 L331.80,169.22 L331.81,169.23 L331.81,169.25 L331.81,169.27 L331.81,169.28 L331.81,169.30 L331.81,169.31 L331.82,169.33 L331.82,169.35 L331.82,169.36 L331.82,169.38 L331.82,169.40 L331.82,169.41 L331.82,169.43 L331.83,169.45 L331.83,169.46 L331.83,169.48 L331.83,169.50 L331.83,169.51 L331.83,169.53 L331.83,169.54 L331.84,169.56 L331.84,169.58 L331.84,169.59 L331.84,169.61 L331.84,169.63 L331.84,169.64 L331.85,169.66 L331.85,169.68 L331.85,169.70 L331.85,169.71 L331.85,169.73 L331.85,169.75 L331.85,169.76 L331.86,169.78 L331.86,169.80 L331.86,169.81 L331.86,169.83 L331.86,169.85 L331.86,169.86 L331.86,169.88 L331.87,169.90 L331.87,169.91 L331.87,169.93 L331.87,169.95 L331.87,169.97 L331.87,169.98 L331.88,170.00 L331.88,170.02 L331.88,170.03 L331.88,170.05 L331.88,170.07 L331.88,170.08 L331.88,170.10 L331.89,170.12 L331.89,170.14 L331.89,170.15 L331.89,170.17 L331.89,170.19 L331.89,170.21 L331.89,170.22 L331.90,170.24 L331.90,170.26 L331.90,170.27 L331.90,170.29 L331.90,170.31 L331.90,170.33 L331.91,170.34 L331.91,170.36 L331.91,170.38 L331.91,170.40 L331.91,170.41 L331.91,170.43 L331.91,170.45 L331.92,170.47 L331.92,170.48 L331.92,170.50 L331.92,170.52 L331.92,170.54 L331.92,170.55 L331.92,170.57 L331.93,170.59 L331.93,170.61 L331.93,170.62 L331.93,170.64 L331.93,170.66 L331.93,170.68 L331.94,170.70 L331.94,170.71 L331.94,170.73 L331.94,170.75 L331.94,170.77 L331.94,170.79 L331.94,170.80 L331.95,170.82 L331.95,170.84 L331.95,170.86 L331.95,170.87 L331.95,170.89 L331.95,170.91 L331.95,170.93 L331.96,170.95 L331.96,170.96 L331.96,170.98 L331.96,171.00 L331.96,171.02 L331.96,171.04 L331.97,171.06 L331.97,171.07 L331.97,171.09 L331.97,171.11 L331.97,171.13 L331.97,171.15 L331.97,171.16 L331.98,171.18 L331.98,171.20 L331.98,171.22 L331.98,171.24 L331.98,171.26 L331.98,171.27 L331.98,171.29 L331.99,171.31 L331.99,171.33 L331.99,171.35 L331.99,171.37 L331.99,171.39 L331.99,171.40 L332.00,171.42 L332.00,171.44 L332.00,171.46 L332.00,171.48 L332.00,171.50 L332.00,171.52 L332.00,171.53 L332.01,171.55 L332.01,171.57 L332.01,171.59 L332.01,171.61 L332.01,171.63 L332.01,171.65 L332.01,171.67 L332.02,171.68 L332.02,171.70 L332.02,171.72 L332.02,171.74 L332.02,171.76 L332.02,171.78 L332.03,171.80 L332.03,171.82 L332.03,171.84 L332.03,171.86 L332.03,171.87 L332.03,171.89 L332.03,171.91 L332.04,171.93 L332.04,171.95 L332.04,171.97 L332.04,171.99" stroke="#3b3b98" stroke-width="2.4" stroke-dasharray="2 7.23" stroke-linecap="square"/>
<path d="M333.92,190.58 L333.92,190.52 L333.92,190.46 L333.92,190.41 L333.93,190.35 L333.93,190.29 L333.93,190.23 L333.93,190.17 L333.93,190.12 L333.93,190.06 L333.93,190.00 L333.94,189.95 L333.94,189.89 L333.94,189.83 L333.94,189.78 L333.94,189.72 L333.94,189.66 L333.94,189.61 L333.95,189.55 L333.95,189.50 L333.95,189.44 L333.95,189.38 L333.95,189.33 L333.95,189.27 L333.96,189.22 L333.96,189.16 L333.96,189.11 L333.96,189.06 L333.96,189.00 L333.96,188.95 L333.96,188.89 L333.97,188.84 L333.97,188.79 L333.97,188.73 L333.97,188.68 L333.97,188.63 L333.97,188.57 L333.97,188.52 L333.98,188.47 L333.98,188.41 L333.98,188.36 L333.98,188.31 L333.98,188.26 L333.98,188.20 L333.99,188.15 L333.99,188.10 L333.99,188.05 L333.99,188.00 L333.99,187.95 L333.99,187.90 L333.99,187.84 L334.00,187.79 L334.00,187.74 L334.00,187.69 L334.00,187.64 L334.00,187.59 L334.00,187.54 L334.00,187.49 L334.01,187.44 L334.01,187.39 L334.01,187.34 L334.01,187.29 L334.01,187.24 L334.01,187.19 L334.02,187.14 L334.02,187.09 L334.02,187.04 L334.02,187.00 L334.02,186.95 L334.02,186.90 L334.02,186.85 L334.03,186.80 L334.03,186.75 L334.03,186.70 L334.03,186.66 L334.03,186.61 L334.03,186.56 L334.03,186.51 L334.04,186.46 L334.04,186.42 L334.04,186.37 L334.04,186.32 L334.04,186.28 L334.04,186.23 L334.05,186.18 L334.05,186.13 L334.05,186.09 L334.05,186.04 L334.05,185.99 L334.05,185.95 L334.05,185.90 L334.06,185.86 L334.06,185.81 L334.06,185.76 L334.06,185.72 L334.06,185.67 L334.06,185.63 L334.06,185.58 L334.07,185.54 L334.07,185.49 L334.07,185.45 L334.07,185.40 L334.07,185.36 L334.07,185.31 L334.08,185.27 L334.08,185.22 L334.08,185.18 L334.08,185.13 L334.08,185.09 L334.08,185.04 L334.08,185.00 L334.09,184.96 L334.09,184.91 L334.09,184.87 L334.09,184.82 L334.09,184.78 L334.09,184.74 L334.09,184.69 L334.10,184.65 L334.10,184.61 L334.10,184.56 L334.10,184.52 L334.10,184.48 L334.10,184.43 L334.11,184.39 L334.11,184.35 L334.11,184.31 L334.11,184.26 L334.11,184.22 L334.11,184.18 L334.11,184.14 L334.12,184.09 L334.12,184.05 L334.12,184.01 L334.12,183.97 L334.12,183.93 L334.12,183.88 L334.12,183.84 L334.13,183.80 L334.13,183.76 L334.13,183.72 L334.13,183.68 L334.13,183.64 L334.13,183.59 L334.14,183.55 L334.14,183.51 L334.14,183.47 L334.14,183.43 L334.14,183.39 L334.14,183.35 L334.14,183.31 L334.15,183.27 L334.15,183.23 L334.15,183.19 L334.15,183.15 L334.15,183.11 L334.15,183.07 L334.15,183.03 L334.16,182.99 L334.16,182.95 L334.16,182.91 L334.16,182.87 L334.16,182.83 L334.16,182.79 L334.17,182.75 L334.17,182.71 L334.17,182.67 L334.17,182.63 L334.17,182.59 L334.17,182.56 L334.17,182.52 L334.18,182.48 L334.18,182.44 L334.18,182.40 L334.18,182.36 L334.18,182.32 L334.18,182.28 L334.18,182.25 L334.19,182.21 L334.19,182.17 L334.19,182.13 L334.19,182.09 L334.19,182.06 L334.19,182.02 L334.20,181.98 L334.20,181.94 L334.20,181.90 L334.20,181.87 L334.20,181.83 L334.20,181.79 L334.20,181.75 L334.21,181.72 L334.21,181.68 L334.21,181.64 L334.21,181.60 L334.21,181.57 L334.21,181.53 L334.21,181.49 L334.22,181.46 L334.22,181.42 L334.22,181.38 L334.22,181.35 L334.22,181.31 L334.22,181.27 L334.23,181.24 L334.23,181.20 L334.23,181.16 L334.23,181.13 L334.23,181.09 L334.23,181.06 L334.23,181.02 L334.24,180.98 L334.24,180.95 L334.24,180.91 L334.24,180.88 L334.24,180.84 L334.24,180.80 L334.24,180.77 L334.25,180.73 L334.25,180.70 L334.25,180.66 L334.25,180.63 L334.25,180.59 L334.25,180.56 L334.26,180.52 L334.26,180.49 L334.26,180.45 L334.26,180.42 L334.26,180.38 L334.26,180.35 L334.26,180.31 L334.27,180.28 L334.27,180.24 L334.27,180.21 L334.27,180.17 L334.27,180.14 L334.27,180.10 L334.27,180.07 L334.28,180.04 L334.28,180.00 L334.28,179.97 L334.28,179.93 L334.28,179.90 L334.28,179.87 L334.29,179.83 L334.29,179.80 L334.29,179.76 L334.29,179.73 L334.29,179.70 L334.29,179.66 L334.29,179.63 L334.30,179.60 L334.30,179.56 L334.30,179.53 L334.30,179.50 L334.30,179.46 L334.30,179.43 L334.30,179.40 L334.31,179.36 L334.31,179.33 L334.31,179.30 L334.31,179.26 L334.31,179.23 L334.31,179.20 L334.32,179.16 L334.32,179.13 L334.32,179.10 L334.32,179.07 L334.32,179.03 L334.32,179.00 L334.32,178.97 L334.33,178.94 L334.33,178.90 L334.33,178.87 L334.33,178.84 L334.33,178.81 L334.33,178.77 L334.33,178.74 L334.34,178.71 L334.34,178.68 L334.34,178.65 L334.34,178.61 L334.34,178.58 L334.34,178.55 L334.35,178.52 L334.35,178.49 L334.35,178.46 L334.35,178.42 L334.35,178.39 L334.35,178.36 L334.35,178.33 L334.36,178.30 L334.36,178.27 L334.36,178.24 L334.36,178.20 L334.36,178.17 L334.36,178.14 L334.36,178.11 L334.37,178.08 L334.37,178.05 L334.37,178.02 L334.37,177.99 L334.37,177.96 L334.37,177.93 L334.38,177.89 L334.38,177.86 L334.38,177.83 L334.38,177.80 L334.38,177.77 L334.38,177.74 L334.38,177.71 L334.39,177.68 L334.39,177.65 L334.39,177.62 L334.39,177.59 L334.39,177.56 L334.39,177.53 L334.39,177.50 L334.40,177.47 L334.40,177.44 L334.40,177.41 L334.40,177.38 L334.40,177.35 L334.40,177.32 L334.41,177.29 L334.41,177.26 L334.41,177.23 L334.41,177.20 L334.41,177.17 L334.41,177.14 L334.41,177.11 L334.42,177.08 L334.42,177.05 L334.42,177.02 L334.42,176.99 L334.42,176.96 L334.42,176.93 L334.42,176.90 L334.43,176.87 L334.43,176.85 L334.43,176.82 L334.43,176.79 L334.43,176.76 L334.43,176.73 L334.44,176.70 L334.44,176.67 L334.44,176.64 L334.44,176.61 L334.44,176.58 L334.44,176.56 L334.44,176.53 L334.45,176.50 L334.45,176.47 L334.45,176.44 L334.45,176.41 L334.45,176.38 L334.45,176.36 L334.45,176.33 L334.46,176.30 L334.46,176.27 L334.46,176.24 L334.46,176.21 L334.46,176.19 L334.46,176.16 L334.47,176.13 L334.47,176.10 L334.47,176.07 L334.47,176.04 L334.47,176.02 L334.47,175.99 L334.47,175.96 L334.48,175.93 L334.48,175.91 L334.48,175.88 L334.48,175.85 L334.48,175.82 L334.48,175.79 L334.48,175.77 L334.49,175.74 L334.49,175.71 L334.49,175.68 L334.49,175.66 L334.49,175.63 L334.49,175.60 L334.50,175.57 L334.50,175.55 L334.50,175.52 L334.50,175.49 L334.50,175.46 L334.50,175.44 L334.50,175.41 L334.51,175.38 L334.51,175.36 L334.51,175.33 L334.51,175.30 L334.51,175.27 L334.51,175.25 L334.51,175.22 L334.52,175.19 L334.52,175.17 L334.52,175.14 L334.52,175.11 L334.52,175.09 L334.52,175.06 L334.53,175.03 L334.53,175.01 L334.53,174.98 L334.53,174.95 L334.53,174.93 L334.53,174.90 L334.53,174.87 L334.54,174.85 L334.54,174.82 L334.54,174.79 L334.54,174.77 L334.54,174.74 L334.54,174.72 L334.54,174.69 L334.55,174.66 L334.55,174.64 L334.55,174.61 L334.55,174.59 L334.55,174.56 L334.55,174.53 L334.56,174.51 L334.56,174.48 L334.56,174.46 L334.56,174.43 L334.56,174.40 L334.56,174.38 L334.56,174.35 L334.57,174.33 L334.57,174.30 L334.57,174.27 L334.57,174.25 L334.57,174.22 L334.57,174.20 L334.57,174.17 L334.58,174.15 L334.58,174.12 L334.58,174.10 L334.58,174.07 L334.58,174.04 L334.58,174.02 L334.59,173.99 L334.59,173.97 L334.59,173.94 L334.59,173.92 L334.59,173.89 L334.59,173.87 L334.59,173.84 L334.60,173.82 L334.60,173.79 L334.60,173.77 L334.60,173.74 L334.60,173.72 L334.60,173.69 L334.60,173.67 L334.61,173.64 L334.61,173.62 L334.61,173.59 L334.61,173.57 L334.61,173.54 L334.61,173.52 L334.62,173.49 L334.62,173.47 L334.62,173.44 L334.62,173.42 L334.62,173.40 L334.62,173.37 L334.62,173.35 L334.63,173.32 L334.63,173.30 L334.63,173.27 L334.63,173.25 L334.63,173.22 L334.63,173.20 L334.63,173.18 L334.64,173.15 L334.64,173.13 L334.64,173.10 L334.64,173.08 L334.64,173.05 L334.64,173.03 L334.65,173.01 L334.65,172.98 L334.65,172.96 L334.65,172.93 L334.65,172.91 L334.65,172.89 L334.65,172.86 L334.66,172.84 L334.66,172.81 L334.66,172.79 L334.66,172.77 L334.66,172.74 L334.66,172.72 L334.66,172.70 L334.67,172.67 L334.67,172.65 L334.67,172.62 L334.67,172.60 L334.67,172.58 L334.67,172.55 L334.68,172.53 L334.68,172.51 L334.68,172.48 L334.68,172.46 L334.68,172.44 L334.68,172.41 L334.68,172.39 L334.69,172.37 L334.69,172.34 L334.69,172.32 L334.69,172.30 L334.69,172.27 L334.69,172.25 L334.69,172.23 L334.70,172.20 L334.70,172.18 L334.70,172.16 L334.70,172.13 L334.70,172.11 L334.70,172.09 L334.71,172.06 L334.71,172.04 L334.71,172.02 L334.71,172.00 L334.71,171.97 L334.71,171.95 L334.71,171.93 L334.72,171.90 L334.72,171.88 L334.72,171.86 L334.72,171.84 L334.72,171.81 L334.72,171.79 L334.72,171.77 L334.73,171.74 L334.73,171.72 L334.73,171.70 L334.73,171.68 L334.73,171.65 L334.73,171.63 L334.74,171.61 L334.74,171.59 L334.74,171.56 L334.74,171.54 L334.74,171.52 L334.74,171.50 L334.74,171.47 L334.75,171.45 L334.75,171.43 L334.75,171.41 L334.75,171.39 L334.75,171.36 L334.75,171.34 L334.75,171.32 L334.76,171.30 L334.76,171.27 L334.76,171.25 L334.76,171.23 L334.76,171.21 L334.76,171.19 L334.77,171.16 L334.77,171.14 L334.77,171.12 L334.77,171.10 L334.77,171.08 L334.77,171.05 L334.77,171.03 L334.78,171.01 L334.78,170.99 L334.78,170.97 L334.78,170.95 L334.78,170.92 L334.78,170.90 L334.78,170.88 L334.79,170.86 L334.79,170.84 L334.79,170.81 L334.79,170.79 L334.79,170.77 L334.79,170.75 L334.80,170.73 L334.80,170.71 L334.80,170.69 L334.80,170.66 L334.80,170.64 L334.80,170.62 L334.80,170.60 L334.81,170.58 L334.81,170.56 L334.81,170.54 L334.81,170.51 L334.81,170.49 L334.81,170.47 L334.81,170.45 L334.82,170.43 L334.82,170.41 L334.82,170.39 L334.82,170.37 L334.82,170.34 L334.82,170.32 L334.83,170.30 L334.83,170.28 L334.83,170.26 L334.83,170.24 L334.83,170.22 L334.83,170.20 L334.83,170.18 L334.84,170.15 L334.84,170.13 L334.84,170.11 L334.84,170.09 L334.84,170.07 L334.84,170.05 L334.84,170.03 L334.85,170.01 L334.85,169.99 L334.85,169.97 L334.85,169.95 L334.85,169.93 L334.85,169.90 L334.86,169.88 L334.86,169.86 L334.86,169.84 L334.86,169.82 L334.86,169.80 L334.86,169.78 L334.86,169.76 L334.87,169.74 L334.87,169.72 L334.87,169.70 L334.87,169.68 L334.87,169.66 L334.87,169.64 L334.87,169.62 L334.88,169.60 L334.88,169.58 L334.88,169.56 L334.88,169.54 L334.88,169.52 L334.88,169.50 L334.89,169.47 L334.89,169.45 L334.89,169.43 L334.89,169.41 L334.89,169.39 L334.89,169.37 L334.89,169.35 L334.90,169.33 L334.90,169.31 L334.90,169.29 L334.90,169.27 L334.90,169.25 L334.90,169.23 L334.90,169.21 L334.91,169.19 L334.91,169.17 L334.91,169.15 L334.91,169.13 L334.91,169.11 L334.91,169.09 L334.92,169.07 L334.92,169.05 L334.92,169.03 L334.92,169.01 L334.92,168.99 L334.92,168.97 L334.92,168.95 L334.93,168.93 L334.93,168.91 L334.93,168.90 L334.93,168.88 L334.93,168.86 L334.93,168.84 L334.93,168.82 L334.94,168.80 L334.94,168.78 L334.94,168.76 L334.94,168.74 L334.94,168.72 L334.94,168.70 L334.95,168.68 L334.95,168.66 L334.95,168.64 L334.95,168.62 L334.95,168.60 L334.95,168.58 L334.95,168.56 L334.96,168.54 L334.96,168.52 L334.96,168.50 L334.96,168.49 L334.96,168.47 L334.96,168.45 L334.96,168.43 L334.97,168.41 L334.97,168.39 L334.97,168.37 L334.97,168.35 L334.97,168.33 L334.97,168.31 L334.98,168.29 L334.98,168.27 L334.98,168.26 L334.98,168.24 L334.98,168.22 L334.98,168.20 L334.98,168.18 L334.99,168.16 L334.99,168.14 L334.99,168.12 L334.99,168.10 L334.99,168.08 L334.99,168.06 L334.99,168.05 L335.00,168.03 L335.00,168.01 L335.00,167.99 L335.00,167.97 L335.00,167.95 L335.00,167.93 L335.01,167.91 L335.01,167.90 L335.01,167.88 L335.01,167.86 L335.01,167.84 L335.01,167.82 L335.01,167.80 L335.02,167.78 L335.02,167.76 L335.02,167.75 L335.02,167.73 L335.02,167.71 L335.02,167.69 L335.02,167.67 L335.03,167.65 L335.03,167.63 L335.03,167.62 L335.03,167.60 L335.03,167.58 L335.03,167.56 L335.04,167.54 L335.04,167.52 L335.04,167.50 L335.04,167.49 L335.04,167.47 L335.04,167.45 L335.04,167.43 L335.05,167.41 L335.05,167.39 L335.05,167.38 L335.05,167.36 L335.05,167.34 L335.05,167.32 L335.05,167.30 L335.06,167.29 L335.06,167.27 L335.06,167.25 L335.06,167.23 L335.06,167.21 L335.06,167.19 L335.07,167.18 L335.07,167.16 L335.07,167.14 L335.07,167.12 L335.07,167.10 L335.07,167.09 L335.07,167.07 L335.08,167.05 L335.08,167.03 L335.08,167.01 L335.08,167.00 L335.08,166.98 L335.08,166.96 L335.08,166.94 L335.09,166.92 L335.09,166.91 L335.09,166.89 L335.09,166.87 L335.09,166.85 L335.09,166.83 L335.10,166.82 L335.10,166.80 L335.10,166.78 L335.10,166.76 L335.10,166.75 L335.10,166.73 L335.10,166.71 L335.11,166.69 L335.11,166.67 L335.11,166.66 L335.11,166.64 L335.11,166.62 L335.11,166.60 L335.11,166.59 L335.12,166.57 L335.12,166.55 L335.12,166.53 L335.12,166.52 L335.12,166.50 L335.12,166.48 L335.13,166.46 L335.13,166.45 L335.13,166.43 L335.13,166.41 L335.13,166.39 L335.13,166.38 L335.13,166.36 L335.14,166.34 L335.14,166.32 L335.14,166.31 L335.14,166.29 L335.14,166.27 L335.14,166.25 L335.14,166.24 L335.15,166.22 L335.15,166.20 L335.15,166.18 L335.15,166.17 L335.15,166.15 L335.15,166.13 L335.16,166.12 L335.16,166.10 L335.16,166.08 L335.16,166.06 L335.16,166.05 L335.16,166.03 L335.16,166.01 L335.17,166.00 L335.17,165.98 L335.17,165.96 L335.17,165.94 L335.17,165.93 L335.17,165.91 L335.17,165.89 L335.18,165.88 L335.18,165.86 L335.18,165.84 L335.18,165.82 L335.18,165.81 L335.18,165.79 L335.19,165.77 L335.19,165.76 L335.19,165.74 L335.19,165.72 L335.19,165.71 L335.19,165.69 L335.19,165.67 L335.20,165.66 L335.20,165.64 L335.20,165.62 L335.20,165.61 L335.20,165.59 L335.20,165.57 L335.20,165.55 L335.21,165.54 L335.21,165.52 L335.21,165.50 L335.21,165.49 L335.21,165.47 L335.21,165.45 L335.22,165.44 L335.22,165.42 L335.22,165.40 L335.22,165.39 L335.22,165.37 L335.22,165.35 L335.22,165.34 L335.23,165.32 L335.23,165.30 L335.23,165.29 L335.23,165.27 L335.23,165.26 L335.23,165.24 L335.23,165.22 L335.24,165.21 L335.24,165.19 L335.24,165.17 L335.24,165.16 L335.24,165.14 L335.24,165.12 L335.25,165.11 L335.25,165.09 L335.25,165.07 L335.25,165.06 L335.25,165.04 L335.25,165.03 L335.25,165.01 L335.26,164.99 L335.26,164.98 L335.26,164.96 L335.26,164.94 L335.26,164.93 L335.26,164.91 L335.26,164.89 L335.27,164.88 L335.27,164.86 L335.27,164.85 L335.27,164.83 L335.27,164.81 L335.27,164.80 L335.28,164.78 L335.28,164.77 L335.28,164.75 L335.28,164.73 L335.28,164.72 L335.28,164.70 L335.28,164.68 L335.29,164.67 L335.29,164.65 L335.29,164.64 L335.29,164.62 L335.29,164.60 L335.29,164.59 L335.29,164.57 L335.30,164.56 L335.30,164.54 L335.30,164.52 L335.30,164.51 L335.30,164.49 L335.30,164.48 L335.31,164.46 L335.31,164.44 L335.31,164.43 L335.31,164.41 L335.31,164.40 L335.31,164.38 L335.31,164.37 L335.32,164.35 L335.32,164.33 L335.32,164.32 L335.32,164.30 L335.32,164.29 L335.32,164.27 L335.32,164.25 L335.33,164.24 L335.33,164.22 L335.33,164.21 L335.33,164.19 L335.33,164.18 L335.33,164.16 L335.34,164.14 L335.34,164.13 L335.34,164.11 L335.34,164.10 L335.34,164.08 L335.34,164.07 L335.34,164.05 L335.35,164.04 L335.35,164.02 L335.35,164.00 L335.35,163.99 L335.35,163.97 L335.35,163.96 L335.35,163.94 L335.36,163.93 L335.36,163.91 L335.36,163.90 L335.36,163.88 L335.36,163.86 L335.36,163.85 L335.37,163.83 L335.37,163.82 L335.37,163.80 L335.37,163.79 L335.37,163.77 L335.37,163.76 L335.37,163.74 L335.38,163.73 L335.38,163.71 L335.38,163.69 L335.38,163.68 L335.38,163.66 L335.38,163.65 L335.38,163.63 L335.39,163.62 L335.39,163.60 L335.39,163.59 L335.39,163.57 L335.39,163.56 L335.39,163.54 L335.40,163.53 L335.40,163.51 L335.40,163.50 L335.40,163.48 L335.40,163.47 L335.40,163.45 L335.40,163.44 L335.41,163.42 L335.41,163.41 L335.41,163.39 L335.41,163.37 L335.41,163.36 L335.41,163.34 L335.41,163.33 L335.42,163.31 L335.42,163.30 L335.42,163.28 L335.42,163.27 L335.42,163.25 L335.42,163.24 L335.43,163.22 L335.43,163.21 L335.43,163.19 L335.43,163.18 L335.43,163.16 L335.43,163.15 L335.43,163.13 L335.44,163.12 L335.44,163.10 L335.44,163.09 L335.44,163.07 L335.44,163.06 L335.44,163.04 L335.44,163.03 L335.45,163.02 L335.45,163.00 L335.45,162.99 L335.45,162.97 L335.45,162.96 L335.45,162.94 L335.46,162.93 L335.46,162.91 L335.46,162.90 L335.46,162.88 L335.46,162.87 L335.46,162.85 L335.46,162.84 L335.47,162.82 L335.47,162.81 L335.47,162.79 L335.47,162.78 L335.47,162.76 L335.47,162.75 L335.47,162.73 L335.48,162.72 L335.48,162.71 L335.48,162.69 L335.48,162.68 L335.48,162.66 L335.48,162.65 L335.49,162.63 L335.49,162.62 L335.49,162.60 L335.49,162.59 L335.49,162.57 L335.49,162.56 L335.49,162.54 L335.50,162.53 L335.50,162.52 L335.50,162.50 L335.50,162.49 L335.50,162.47 L335.50,162.46 L335.50,162.44 L335.51,162.43 L335.51,162.41 L335.51,162.40 L335.51,162.39 L335.51,162.37 L335.51,162.36 L335.52,162.34 L335.52,162.33 L335.52,162.31 L335.52,162.30 L335.52,162.28 L335.52,162.27 L335.52,162.26 L335.53,162.24 L335.53,162.23 L335.53,162.21 L335.53,162.20 L335.53,162.18 L335.53,162.17 L335.53,162.16 L335.54,162.14 L335.54,162.13 L335.54,162.11 L335.54,162.10 L335.54,162.08 L335.54,162.07 L335.55,162.06 L335.55,162.04 L335.55,162.03 L335.55,162.01 L335.55,162.00 L335.55,161.99 L335.55,161.97 L335.56,161.96 L335.56,161.94 L335.56,161.93 L335.56,161.91 L335.56,161.90 L335.56,161.89 L335.57,161.87 L335.57,161.86 L335.57,161.84 L335.57,161.83 L335.57,161.82 L335.57,161.80 L335.57,161.79 L335.58,161.77 L335.58,161.76 L335.58,161.75 L335.58,161.73 L335.58,161.72 L335.58,161.70 L335.58,161.69 L335.59,161.68 L335.59,161.66 L335.59,161.65 L335.59,161.63 L335.59,161.62 L335.59,161.61 L335.60,161.59 L335.60,161.58 L335.60,161.56 L335.60,161.55 L335.60,161.54 L335.60,161.52 L335.60,161.51 L335.61,161.50 L335.61,161.48 L335.61,161.47 L335.61,161.45 L335.61,161.44 L335.61,161.43 L335.61,161.41 L335.62,161.40 L335.62,161.38 L335.62,161.37 L335.62,161.36 L335.62,161.34 L335.62,161.33 L335.63,161.32 L335.63,161.30 L335.63,161.29 L335.63,161.28 L335.63,161.26 L335.63,161.25 L335.63,161.23 L335.64,161.22 L335.64,161.21 L335.64,161.19 L335.64,161.18 L335.64,161.17 L335.64,161.15 L335.64,161.14 L335.65,161.12 L335.65,161.11 L335.65,161.10 L335.65,161.08 L335.65,161.07 L335.65,161.06 L335.66,161.04 L335.66,161.03 L335.66,161.02 L335.66,161.00 L335.66,160.99 L335.66,160.98 L335.66,160.96 L335.67,160.95 L335.67,160.94 L335.67,160.92 L335.67,160.91 L335.67,160.89 L335.67,160.88 L335.67,160.87 L335.68,160.85 L335.68,160.84 L335.68,160.83 L335.68,160.81 L335.68,160.80 L335.68,160.79 L335.69,160.77 L335.69,160.76 L335.69,160.75 L335.69,160.73 L335.69,160.72 L335.69,160.71 L335.69,160.69 L335.70,160.68 L335.70,160.67 L335.70,160.65 L335.70,160.64 L335.70,160.63 L335.70,160.61 L335.70,160.60 L335.71,160.59 L335.71,160.57 L335.71,160.56 L335.71,160.55 L335.71,160.53 L335.71,160.52 L335.72,160.51 L335.72,160.50 L335.72,160.48 L335.72,160.47 L335.72,160.46 L335.72,160.44 L335.72,160.43 L335.73,160.42 L335.73,160.40 L335.73,160.39 L335.73,160.38 L335.73,160.36 L335.73,160.35 L335.73,160.34 L335.74,160.32 L335.74,160.31 L335.74,160.30 L335.74,160.28 L335.74,160.27 L335.74,160.26 L335.75,160.25 L335.75,160.23 L335.75,160.22 L335.75,160.21 L335.75,160.19 L335.75,160.18 L335.75,160.17 L335.76,160.15 L335.76,160.14 L335.76,160.13 L335.76,160.12 L335.76,160.10 L335.76,160.09 L335.76,160.08 L335.77,160.06 L335.77,160.05 L335.77,160.04 L335.77,160.02 L335.77,160.01 L335.77,160.00 L335.78,159.99 L335.78,159.97 L335.78,159.96 L335.78,159.95 L335.78,159.93 L335.78,159.92 L335.78,159.91 L335.79,159.90 L335.79,159.88 L335.79,159.87 L335.79,159.86 L335.79,159.84 L335.79,159.83 L335.79,159.82 L335.80,159.81 L335.80,159.79 L335.80,159.78 L335.80,159.77 L335.80,159.76 L335.80,159.74 L335.81,159.73 L335.81,159.72 L335.81,159.70 L335.81,159.69 L335.81,159.68 L335.81,159.67 L335.81,159.65 L335.82,159.64 L335.82,159.63 L335.82,159.62 L335.82,159.60 L335.82,159.59 L335.82,159.58 L335.82,159.56 L335.83,159.55 L335.83,159.54 L335.83,159.53 L335.83,159.51 L335.83,159.50 L335.83,159.49 L335.84,159.48 L335.84,159.46 L335.84,159.45 L335.84,159.44 L335.84,159.43 L335.84,159.41 L335.84,159.40 L335.85,159.39 L335.85,159.38 L335.85,159.36 L335.85,159.35 L335.85,159.34 L335.85,159.33 L335.85,159.31 L335.86,159.30 L335.86,159.29 L335.86,159.28 L335.86,159.26 L335.86,159.25 L335.86,159.24 L335.87,159.23 L335.87,159.21 L335.87,159.20 L335.87,159.19 L335.87,159.18 L335.87,159.16 L335.87,159.15 L335.88,159.14 L335.88,159.13 L335.88,159.11 L335.88,159.10 L335.88,159.09 L335.88,159.08 L335.88,159.06 L335.89,159.05 L335.89,159.04 L335.89,159.03 L335.89,159.01 L335.89,159.00 L335.89,158.99 L335.90,158.98 L335.90,158.97 L335.90,158.95 L335.90,158.94 L335.90,158.93 L335.90,158.92 L335.90,158.90 L335.91,158.89 L335.91,158.88 L335.91,158.87 L335.91,158.86 L335.91,158.84 L335.91,158.83 L335.91,158.82 L335.92,158.81 L335.92,158.79 L335.92,158.78 L335.92,158.77 L335.92,158.76 L335.92,158.75 L335.93,158.73 L335.93,158.72 L335.93,158.71 L335.93,158.70 L335.93,158.68 L335.93,158.67 L335.93,158.66 L335.94,158.65 L335.94,158.64 L335.94,158.62 L335.94,158.61 L335.94,158.60 L335.94,158.59 L335.94,158.58 L335.95,158.56 L335.95,158.55 L335.95,158.54 L335.95,158.53 L335.95,158.52 L335.95,158.50 L335.96,158.49 L335.96,158.48 L335.96,158.47 L335.96,158.45 L335.96,158.44 L335.96,158.43 L335.96,158.42 L335.97,158.41 L335.97,158.39 L335.97,158.38 L335.97,158.37 L335.97,158.36 L335.97,158.35 L335.97,158.34 L335.98,158.32 L335.98,158.31 L335.98,158.30 L335.98,158.29 L335.98,158.28 L335.98,158.26 L335.99,158.25 L335.99,158.24 L335.99,158.23 L335.99,158.22 L335.99,158.20 L335.99,158.19 L335.99,158.18 L336.00,158.17 L336.00,158.16 L336.00,158.14 L336.00,158.13 L336.00,158.12 L336.00,158.11 L336.00,158.10 L336.01,158.09 L336.01,158.07 L336.01,158.06 L336.01,158.05 L336.01,158.04 L336.01,158.03 L336.02,158.01 L336.02,158.00 L336.02,157.99 L336.02,157.98 L336.02,157.97 L336.02,157.96 L336.02,157.94 L336.03,157.93 L336.03,157.92 L336.03,157.91 L336.03,157.90 L336.03,157.89 L336.03,157.87 L336.03,157.86 L336.04,157.85 L336.04,157.84 L336.04,157.83 L336.04,157.82 L336.04,157.80 L336.04,157.79 L336.05,157.78 L336.05,157.77 L336.05,157.76 L336.05,157.75 L336.05,157.73 L336.05,157.72 L336.05,157.71 L336.06,157.70 L336.06,157.69 L336.06,157.68 L336.06,157.66 L336.06,157.65 L336.06,157.64 L336.06,157.63 L336.07,157.62 L336.07,157.61 L336.07,157.59 L336.07,157.58 L336.07,157.57 L336.07,157.56 L336.08,157.55 L336.08,157.54 L336.08,157.53 L336.08,157.51 L336.08,157.50 L336.08,157.49 L336.08,157.48 L336.09,157.47 L336.09,157.46 L336.09,157.45 L336.09,157.43 L336.09,157.42 L336.09,157.41 L336.09,157.40 L336.10,157.39 L336.10,157.38 L336.10,157.36 L336.10,157.35 L336.10,157.34 L336.10,157.33 L336.11,157.32 L336.11,157.31 L336.11,157.30 L336.11,157.28 L336.11,157.27 L336.11,157.26 L336.11,157.25 L336.12,157.24 L336.12,157.23 L336.12,157.22 L336.12,157.21 L336.12,157.19 L336.12,157.18 L336.12,157.17 L336.13,157.16 L336.13,157.15 L336.13,157.14 L336.13,157.13 L336.13,157.11 L336.13,157.10 L336.14,157.09 L336.14,157.08 L336.14,157.07 L336.14,157.06 L336.14,157.05 L336.14,157.04 L336.14,157.02 L336.15,157.01 L336.15,157.00 L336.15,156.99 L336.15,156.98 L336.15,156.97 L336.15,156.96 L336.15,156.95 L336.16,156.93 L336.16,156.92 L336.16,156.91 L336.16,156.90 L336.16,156.89 L336.16,156.88 L336.17,156.87 L336.17,156.86 L336.17,156.85 L336.17,156.83 L336.17,156.82 L336.17,156.81 L336.17,156.80 L336.18,156.79 L336.18,156.78 L336.18,156.77 L336.18,156.76 L336.18,156.74 L336.18,156.73 L336.18,156.72 L336.19,156.71 L336.19,156.70 L336.19,156.69 L336.19,156.68 L336.19,156.67 L336.19,156.66 L336.20,156.64 L336.20,156.63 L336.20,156.62 L336.20,156.61 L336.20,156.60 L336.20,156.59 L336.20,156.58 L336.21,156.57 L336.21,156.56 L336.21,156.55 L336.21,156.53 L336.21,156.52 L336.21,156.51 L336.21,156.50 L336.22,156.49 L336.22,156.48 L336.22,156.47 L336.22,156.46 L336.22,156.45 L336.22,156.44 L336.23,156.42 L336.23,156.41 L336.23,156.40 L336.23,156.39 L336.23,156.38 L336.23,156.37 L336.23,156.36 L336.24,156.35 L336.24,156.34 L336.24,156.33 L336.24,156.32 L336.24,156.30 L336.24,156.29 L336.24,156.28 L336.25,156.27 L336.25,156.26 L336.25,156.25 L336.25,156.24 L336.25,156.23 L336.25,156.22 L336.26,156.21 L336.26,156.20 L336.26,156.18 L336.26,156.17 L336.26,156.16 L336.26,156.15 L336.26,156.14 L336.27,156.13 L336.27,156.12 L336.27,156.11 L336.27,156.10 L336.27,156.09 L336.27,156.08 L336.27,156.07 L336.28,156.06 L336.28,156.04 L336.28,156.03 L336.28,156.02 L336.28,156.01 L336.28,156.00 L336.29,155.99 L336.29,155.98 L336.29,155.97 L336.29,155.96 L336.29,155.95 L336.29,155.94 L336.29,155.93 L336.30,155.92 L336.30,155.90 L336.30,155.89 L336.30,155.88 L336.30,155.87 L336.30,155.86 L336.30,155.85 L336.31,155.84 L336.31,155.83 L336.31,155.82 L336.31,155.81 L336.31,155.80 L336.31,155.79 L336.32,155.78 L336.32,155.77 L336.32,155.76 L336.32,155.74 L336.32,155.73 L336.32,155.72 L336.32,155.71 L336.33,155.70 L336.33,155.69 L336.33,155.68 L336.33,155.67 L336.33,155.66 L336.33,155.65 L336.33,155.64 L336.34,155.63 L336.34,155.62 L336.34,155.61 L336.34,155.60 L336.34,155.59 L336.34,155.58 L336.35,155.57 L336.35,155.55 L336.35,155.54 L336.35,155.53 L336.35,155.52 L336.35,155.51 L336.35,155.50 L336.36,155.49 L336.36,155.48 L336.36,155.47 L336.36,155.46 L336.36,155.45 L336.36,155.44 L336.36,155.43 L336.37,155.42 L336.37,155.41 L336.37,155.40 L336.37,155.39 L336.37,155.38 L336.37,155.37 L336.38,155.36 L336.38,155.34 L336.38,155.33 L336.38,155.32 L336.38,155.31 L336.38,155.30 L336.38,155.29 L336.39,155.28 L336.39,155.27 L336.39,155.26 L336.39,155.25 L336.39,155.24 L336.39,155.23 L336.39,155.22 L336.40,155.21 L336.40,155.20 L336.40,155.19 L336.40,155.18 L336.40,155.17 L336.40,155.16 L336.41,155.15 L336.41,155.14 L336.41,155.13 L336.41,155.12 L336.41,155.11 L336.41,155.10 L336.41,155.09 L336.42,155.08 L336.42,155.06 L336.42,155.05 L336.42,155.04 L336.42,155.03 L336.42,155.02 L336.42,155.01 L336.43,155.00 L336.43,154.99 L336.43,154.98 L336.43,154.97 L336.43,154.96 L336.43,154.95 L336.43,154.95 L336.93,151.81 L337.42,149.05 L337.91,146.58 L338.40,144.34 L338.90,142.30 L339.39,140.42 L339.88,138.67 L340.38,137.04 L340.87,135.51 L341.36,134.06 L341.85,132.69 L342.35,131.38 L342.84,130.12 L343.33,128.91 L343.83,127.75 L344.32,126.62 L344.81,125.52 L345.30,124.45 L345.80,123.42 L346.29,122.41 L346.78,121.44 L347.27,120.49 L347.77,119.56 L348.26,118.67 L348.75,117.79 L349.25,116.93 L349.74,116.10 L350.23,115.28 L350.72,114.48 L351.22,113.70 L351.71,112.94 L352.20,112.19 L352.70,111.45 L353.19,110.73 L353.68,110.02 L354.17,109.33 L354.67,108.65 L355.16,107.98 L355.65,107.32 L356.14,106.67 L356.64,106.04 L357.13,105.41 L357.62,104.79 L358.12,104.19 L358.61,103.59 L359.10,103.00 L359.59,102.42 L360.09,101.85 L360.58,101.29 L361.07,100.74 L361.57,100.19 L362.06,99.66 L362.55,99.13 L363.04,98.60 L363.54,98.09 L364.03,97.58 L364.52,97.08 L365.01,96.59 L365.51,96.10 L366.00,95.62 L366.49,95.14 L366.99,94.68 L367.48,94.21 L367.97,93.76 L368.46,93.31 L368.96,92.87 L369.45,92.43 L369.94,92.00 L370.43,91.57 L370.93,91.15 L371.42,90.73 L371.91,90.32 L372.41,89.92 L372.90,89.52 L373.39,89.12 L373.88,88.73 L374.38,88.34 L374.87,87.96 L375.36,87.59 L375.86,87.22 L376.35,86.85 L376.84,86.49 L377.33,86.13 L377.83,85.78 L378.32,85.43 L378.81,85.08 L379.30,84.74 L379.80,84.40 L380.29,84.07 L380.78,83.74 L381.28,83.41 L381.77,83.09 L382.26,82.78 L382.75,82.46 L383.25,82.15 L383.74,81.85 L384.23,81.55 L384.73,81.25 L385.22,80.95 L385.71,80.66 L386.20,80.38 L386.70,80.09 L387.19,79.82 L387.68,79.54 L388.17,79.27 L388.67,79.00 L389.16,78.74 L389.65,78.48 L390.15,78.22 L390.64,77.97 L391.13,77.72 L391.62,77.47 L392.12,77.23 L392.61,76.99 L393.10,76.75 L393.60,76.52 L394.09,76.29 L394.58,76.07 L395.07,75.84 L395.57,75.63 L396.06,75.41 L396.55,75.20 L397.04,74.99 L397.54,74.78 L398.03,74.57 L398.52,74.37 L399.02,74.17 L399.51,73.98 L400.00,73.79 L400.49,73.60 L400.99,73.41 L401.48,73.22 L401.97,73.04 L402.47,72.86 L402.96,72.68 L403.45,72.51 L403.94,72.34 L404.44,72.17 L404.93,72.00 L405.42,71.83 L405.91,71.67 L406.41,71.51 L406.90,71.36 L407.39,71.20 L407.89,71.05 L408.38,70.90 L408.87,70.76 L409.36,70.61 L409.86,70.47 L410.35,70.33 L410.84,70.20 L411.34,70.06 L411.83,69.93 L412.32,69.80 L412.81,69.67 L413.31,69.54 L413.80,69.42 L414.29,69.29 L414.78,69.17 L415.28,69.05 L415.77,68.93 L416.26,68.81 L416.76,68.69 L417.25,68.58 L417.74,68.46 L418.23,68.35 L418.73,68.24 L419.22,68.12 L419.71,68.01 L420.21,67.90 L420.70,67.79 L421.19,67.68 L421.68,67.57 L422.18,67.47 L422.67,67.36 L423.16,67.25 L423.65,67.15 L424.15,67.04 L424.64,66.94 L425.13,66.84 L425.63,66.74 L426.12,66.64 L426.61,66.54 L427.10,66.45 L427.60,66.35 L428.09,66.26 L428.58,66.17 L429.07,66.08 L429.57,65.99 L430.06,65.90 L430.55,65.82 L431.05,65.74 L431.54,65.66 L432.03,65.58 L432.52,65.50 L433.02,65.43 L433.51,65.35 L434.00,65.28 L434.50,65.21 L434.99,65.14 L435.48,65.07 L435.97,65.00 L436.47,64.93 L436.96,64.86 L437.45,64.80 L437.94,64.73 L438.44,64.67 L438.93,64.61 L439.42,64.55 L439.92,64.48 L440.41,64.43 L440.90,64.37 L441.39,64.31 L441.89,64.25 L442.38,64.20 L442.87,64.14 L443.37,64.09 L443.86,64.03 L444.35,63.98 L444.84,63.93 L445.34,63.88 L445.83,63.83 L446.32,63.78 L446.81,63.73 L447.31,63.69 L447.80,63.64 L448.29,63.60 L448.79,63.56 L449.28,63.52 L449.77,63.48 L450.26,63.44 L450.76,63.40 L451.25,63.37 L451.74,63.33 L452.24,63.30 L452.73,63.26 L453.22,63.23 L453.71,63.19 L454.21,63.16 L454.70,63.13 L455.19,63.09 L455.68,63.06 L456.18,63.03 L456.67,62.99 L457.16,62.96 L457.66,62.93 L458.15,62.89 L458.64,62.86 L459.13,62.83 L459.63,62.79 L460.12,62.76 L460.61,62.73 L461.11,62.70 L461.60,62.67 L462.09,62.64 L462.58,62.61 L463.08,62.58 L463.57,62.55 L464.06,62.52 L464.55,62.50 L465.05,62.47 L465.54,62.44 L466.03,62.42 L466.53,62.39 L467.02,62.37 L467.51,62.34 L468.00,62.32 L468.50,62.29 L468.99,62.27 L469.48,62.24 L469.98,62.22 L470.47,62.20 L470.96,62.18 L471.45,62.16 L471.95,62.14 L472.44,62.12 L472.93,62.10 L473.42,62.09 L473.92,62.07 L474.41,62.06 L474.90,62.05 L475.40,62.03 L475.89,62.02 L476.38,62.01 L476.87,62.00 L477.37,61.99 L477.86,61.98 L478.35,61.97 L478.84,61.97 L479.34,61.96 L479.83,61.95 L480.32,61.94 L480.82,61.94 L481.31,61.93 L481.80,61.92 L482.29,61.92 L482.79,61.91 L483.28,61.90 L483.77,61.90 L484.27,61.89 L484.76,61.88 L485.25,61.88 L485.74,61.87 L486.24,61.86 L486.73,61.85 L487.22,61.85 L487.71,61.84 L488.21,61.83 L488.70,61.82 L489.19,61.81 L489.69,61.80 L490.18,61.78 L490.67,61.77 L491.16,61.76 L491.66,61.75 L492.15,61.74 L492.64,61.73 L493.14,61.72 L493.63,61.71 L494.12,61.69 L494.61,61.68 L495.11,61.67 L495.60,61.66 L496.09,61.65 L496.58,61.64 L497.08,61.63 L497.57,61.62 L498.06,61.61 L498.56,61.60 L499.05,61.60 L499.54,61.59 L500.03,61.58 L500.53,61.57 L501.02,61.56 L501.51,61.55 L502.01,61.54 L502.50,61.53 L502.99,61.52 L503.48,61.52 L503.98,61.51 L504.47,61.50 L504.96,61.49 L505.45,61.48 L505.95,61.48 L506.44,61.47 L506.93,61.46 L507.43,61.45 L507.92,61.45 L508.41,61.44 L508.90,61.43 L509.40,61.42 L509.89,61.42 L510.38,61.41 L510.88,61.40 L511.37,61.40 L511.86,61.39 L512.35,61.38 L512.85,61.38 L513.34,61.37 L513.83,61.36 L514.32,61.36 L514.82,61.35 L515.31,61.35 L515.80,61.34 L516.30,61.33 L516.79,61.33 L517.28,61.32 L517.77,61.32 L518.27,61.31 L518.76,61.31 L519.25,61.30 L519.75,61.30 L520.24,61.29 L520.73,61.29 L521.22,61.28 L521.72,61.28 L522.21,61.27 L522.70,61.27 L523.19,61.26 L523.69,61.26 L524.18,61.25 L524.67,61.25 L525.17,61.25 L525.66,61.24 L526.15,61.24 L526.64,61.23 L527.14,61.23 L527.63,61.23 L528.12,61.22 L528.62,61.22 L529.11,61.21 L529.60,61.21 L530.09,61.21 L530.59,61.20 L531.08,61.20 L531.57,61.20 L532.06,61.20 L532.56,61.19 L533.05,61.19" stroke="#3b3b98" stroke-width="2.4" stroke-linecap="square"/>
</g>
<g stroke="#000" stroke-width="0.55" fill="none">
<path d="M114.1,27.5 H541.5 V240.45 H114.1 Z"/>
<path d="M122.50,240.45 v-4.3 M122.50,27.5 v4.3 M163.70,240.45 v-1.7 M163.70,27.5 v1.7 M187.79,240.45 v-1.7 M187.79,27.5 v1.7 M204.89,240.45 v-1.7 M204.89,27.5 v1.7 M218.15,240.45 v-4.3 M218.15,27.5 v4.3 M228.99,240.45 v-1.7 M228.99,27.5 v1.7 M238.15,240.45 v-1.7 M238.15,27.5 v1.7 M246.09,240.45 v-1.7 M246.09,27.5 v1.7 M253.09,240.45 v-1.7 M253.09,27.5 v1.7 M259.35,240.45 v-4.3 M259.35,27.5 v4.3 M300.55,240.45 v-1.7 M300.55,27.5 v1.7 M324.64,240.45 v-1.7 M324.64,27.5 v1.7 M341.74,240.45 v-1.7 M341.74,27.5 v1.7 M355.00,240.45 v-4.3 M355.00,27.5 v4.3 M365.84,240.45 v-1.7 M365.84,27.5 v1.7 M375.00,240.45 v-1.7 M375.00,27.5 v1.7 M382.94,240.45 v-1.7 M382.94,27.5 v1.7 M389.94,240.45 v-1.7 M389.94,27.5 v1.7 M396.20,240.45 v-4.3 M396.20,27.5 v4.3 M437.40,240.45 v-1.7 M437.40,27.5 v1.7 M461.49,240.45 v-1.7 M461.49,27.5 v1.7 M478.59,240.45 v-1.7 M478.59,27.5 v1.7 M491.85,240.45 v-4.3 M491.85,27.5 v4.3 M502.69,240.45 v-1.7 M502.69,27.5 v1.7 M511.85,240.45 v-1.7 M511.85,27.5 v1.7 M519.79,240.45 v-1.7 M519.79,27.5 v1.7 M526.79,240.45 v-1.7 M526.79,27.5 v1.7 M533.05,240.45 v-4.3 M533.05,27.5 v4.3 M114.1,225.51 h4.4 M541.5,225.51 h-4.4 M114.1,212.52 h1.7 M541.5,212.52 h-1.7 M114.1,204.93 h1.7 M541.5,204.93 h-1.7 M114.1,199.54 h1.7 M541.5,199.54 h-1.7 M114.1,195.36 h1.7 M541.5,195.36 h-1.7 M114.1,191.94 h1.7 M541.5,191.94 h-1.7 M114.1,189.05 h1.7 M541.5,189.05 h-1.7 M114.1,186.55 h1.7 M541.5,186.55 h-1.7 M114.1,184.34 h1.7 M541.5,184.34 h-1.7 M114.1,182.37 h4.4 M541.5,182.37 h-4.4 M114.1,169.38 h1.7 M541.5,169.38 h-1.7 M114.1,161.79 h1.7 M541.5,161.79 h-1.7 M114.1,156.40 h1.7 M541.5,156.40 h-1.7 M114.1,152.22 h1.7 M541.5,152.22 h-1.7 M114.1,148.80 h1.7 M541.5,148.80 h-1.7 M114.1,145.91 h1.7 M541.5,145.91 h-1.7 M114.1,143.41 h1.7 M541.5,143.41 h-1.7 M114.1,141.20 h1.7 M541.5,141.20 h-1.7 M114.1,139.23 h4.4 M541.5,139.23 h-4.4 M114.1,126.24 h1.7 M541.5,126.24 h-1.7 M114.1,118.65 h1.7 M541.5,118.65 h-1.7 M114.1,113.26 h1.7 M541.5,113.26 h-1.7 M114.1,109.08 h1.7 M541.5,109.08 h-1.7 M114.1,105.66 h1.7 M541.5,105.66 h-1.7 M114.1,102.77 h1.7 M541.5,102.77 h-1.7 M114.1,100.27 h1.7 M541.5,100.27 h-1.7 M114.1,98.06 h1.7 M541.5,98.06 h-1.7 M114.1,96.09 h4.4 M541.5,96.09 h-4.4 M114.1,83.10 h1.7 M541.5,83.10 h-1.7 M114.1,75.51 h1.7 M541.5,75.51 h-1.7 M114.1,70.12 h1.7 M541.5,70.12 h-1.7 M114.1,65.94 h1.7 M541.5,65.94 h-1.7 M114.1,62.52 h1.7 M541.5,62.52 h-1.7 M114.1,59.63 h1.7 M541.5,59.63 h-1.7 M114.1,57.13 h1.7 M541.5,57.13 h-1.7 M114.1,54.92 h1.7 M541.5,54.92 h-1.7 M114.1,52.95 h4.4 M541.5,52.95 h-4.4"/>
</g>
<g font-size="18.4" fill="#000" opacity="0.99">
<text x="121.90" y="262.8" text-anchor="middle">0.01</text>
<text x="217.55" y="262.8" text-anchor="middle">0.05</text>
<text x="258.75" y="262.8" text-anchor="middle">0.10</text>
<text x="355.00" y="262.8" text-anchor="middle">0.50</text>
<text x="396.30" y="262.8" text-anchor="middle">1.00</text>
<text x="491.55" y="262.8" text-anchor="middle">5.00</text>
<text x="533.55" y="262.8" text-anchor="middle">10.00</text>
<text x="107.3" y="58.75" font-size="18.2" text-anchor="end">0.1</text>
<text x="107.3" y="101.89" font-size="18.2" text-anchor="end">0.01</text>
<text x="107.3" y="145.03" font-size="18.2" text-anchor="end">0.001</text>
<text transform="translate(328.1,294.8) scale(0.93,1)" font-size="19.7" text-anchor="middle">Γ</text>
<text transform="translate(75.08,190.07) scale(0.9375,1)" font-size="18.4">10</text>
<text transform="translate(92.96,182.47) scale(1.0189,1)" font-size="13.2">−4</text>
<text transform="translate(75.08,233.21) scale(0.9375,1)" font-size="18.4">10</text>
<text transform="translate(92.94,224.91) scale(1.0485,1)" font-size="13.2">−5</text>
<text transform="translate(265.82,57.50) scale(0.9600,1) skewX(-9)" font-size="18.4" font-style="italic">ξ</text>
<text transform="translate(275.26,54.10) scale(1.0286,1)" font-size="13.0" fill="#444">*</text>
<text transform="translate(286.99,58.55) scale(1.1594,1)" font-size="18.4">=</text>
<text transform="translate(299.52,58.55) scale(1.1246,1)" font-size="18.4">−</text>
<text transform="translate(310.42,57.50) scale(1.0358,1)" font-size="18.4">0.6</text>
<text transform="translate(408.62,100.60) scale(0.9600,1) skewX(-9)" font-size="18.4" font-style="italic">ξ</text>
<text transform="translate(418.06,97.10) scale(1.0286,1)" font-size="13.0" fill="#444">*</text>
<text transform="translate(429.92,101.65) scale(1.1246,1)" font-size="18.4">=</text>
<text transform="translate(441.02,100.60) scale(1.0405,1)" font-size="18.4">0.6</text>
<text transform="translate(275.28,169.50) scale(1.0551,1)" font-size="18.4">−</text>
<text transform="translate(287.23,167.90) scale(1.0286,1)" font-size="18.2" font-style="italic">N</text>
<text x="299.55" y="170.50" font-size="13.5">1</text>
<g transform="translate(0,0) rotate(-90)">
<text transform="translate(-143.26,15.20) scale(1.1048,1)" font-size="18.2" font-style="italic">N</text>
<text x="-131.15" y="18.20" font-size="13.5">1</text>
<text transform="translate(-151.88,48.50) scale(1.0839,1)" font-size="18.4" font-style="italic">η</text>
<text transform="translate(-140.95,51.20) scale(0.9409,1)" font-size="13.0">New</text>
</g>
</g>
<path d="M26.7,115.2 V151.2" stroke="#000" stroke-width="1.1"/>
</svg>
</body></html>
